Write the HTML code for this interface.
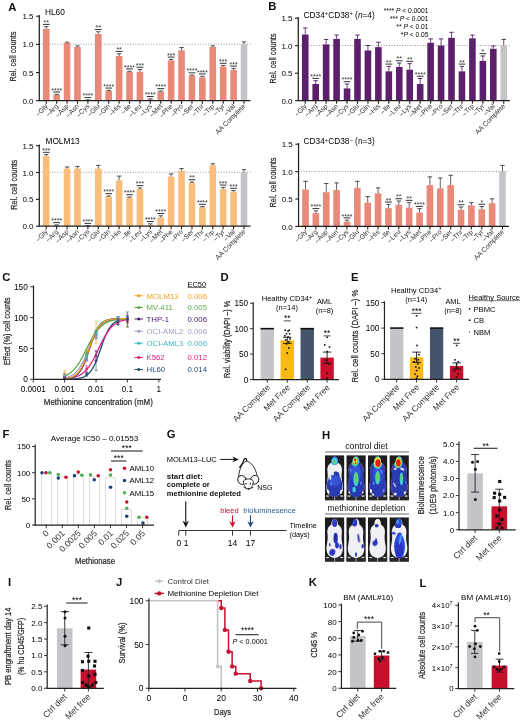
<!DOCTYPE html>
<html><head><meta charset="utf-8"><title>Figure</title>
<style>
html,body{margin:0;padding:0;background:#fff;}
body{width:520px;height:721px;overflow:hidden;font-family:"Liberation Sans",sans-serif;}
svg{display:block;font-family:"Liberation Sans",sans-serif;will-change:transform;opacity:0.999;}
svg text{font-family:"Liberation Sans",sans-serif;}
</style></head><body>
<svg width="520" height="721" viewBox="0 0 520 721">
<rect width="520" height="721" fill="#ffffff"/>
<line x1="39.00" y1="44.17" x2="250.50" y2="44.17" stroke="#6d6e71" stroke-width="0.7" stroke-dasharray="1 1.6"/>
<rect x="42.95" y="28.96" width="6.60" height="71.54" fill="#e8897a" />
<line x1="46.25" y1="28.96" x2="46.25" y2="26.70" stroke="#3a3a3a" stroke-width="0.8" />
<line x1="44.05" y1="26.70" x2="48.45" y2="26.70" stroke="#3a3a3a" stroke-width="0.9" />
<line x1="42.85" y1="24.40" x2="49.65" y2="24.40" stroke="#333" stroke-width="1.0" />
<text x="46.25" y="25.00" font-size="7" text-anchor="middle" fill="#333">**</text>
<rect x="53.36" y="94.87" width="6.60" height="5.63" fill="#e8897a" />
<line x1="56.66" y1="94.87" x2="56.66" y2="94.30" stroke="#3a3a3a" stroke-width="0.8" />
<line x1="54.46" y1="94.30" x2="58.86" y2="94.30" stroke="#3a3a3a" stroke-width="0.9" />
<line x1="53.26" y1="92.00" x2="60.06" y2="92.00" stroke="#333" stroke-width="1.0" />
<text x="56.66" y="92.60" font-size="7" text-anchor="middle" fill="#333">****</text>
<rect x="63.77" y="43.04" width="6.60" height="57.46" fill="#e8897a" />
<line x1="67.07" y1="43.04" x2="67.07" y2="42.20" stroke="#3a3a3a" stroke-width="0.8" />
<line x1="64.87" y1="42.20" x2="69.27" y2="42.20" stroke="#3a3a3a" stroke-width="0.9" />
<rect x="74.17" y="46.98" width="6.60" height="53.52" fill="#e8897a" />
<line x1="77.47" y1="46.98" x2="77.47" y2="45.86" stroke="#3a3a3a" stroke-width="0.8" />
<line x1="75.27" y1="45.86" x2="79.67" y2="45.86" stroke="#3a3a3a" stroke-width="0.9" />
<rect x="84.58" y="100.22" width="6.60" height="0.28" fill="#e8897a" />
<line x1="87.88" y1="100.22" x2="87.88" y2="99.94" stroke="#3a3a3a" stroke-width="0.8" />
<line x1="85.68" y1="99.94" x2="90.08" y2="99.94" stroke="#3a3a3a" stroke-width="0.9" />
<line x1="84.48" y1="97.64" x2="91.28" y2="97.64" stroke="#333" stroke-width="1.0" />
<text x="87.88" y="98.24" font-size="7" text-anchor="middle" fill="#333">****</text>
<rect x="94.99" y="34.03" width="6.60" height="66.47" fill="#e8897a" />
<line x1="98.29" y1="34.03" x2="98.29" y2="31.77" stroke="#3a3a3a" stroke-width="0.8" />
<line x1="96.09" y1="31.77" x2="100.49" y2="31.77" stroke="#3a3a3a" stroke-width="0.9" />
<line x1="94.89" y1="29.47" x2="101.69" y2="29.47" stroke="#333" stroke-width="1.0" />
<text x="98.29" y="30.07" font-size="7" text-anchor="middle" fill="#333">**</text>
<rect x="105.40" y="90.92" width="6.60" height="9.58" fill="#e8897a" />
<line x1="108.70" y1="90.92" x2="108.70" y2="90.36" stroke="#3a3a3a" stroke-width="0.8" />
<line x1="106.50" y1="90.36" x2="110.90" y2="90.36" stroke="#3a3a3a" stroke-width="0.9" />
<line x1="105.30" y1="88.06" x2="112.10" y2="88.06" stroke="#333" stroke-width="1.0" />
<text x="108.70" y="88.66" font-size="7" text-anchor="middle" fill="#333">****</text>
<rect x="115.81" y="56.00" width="6.60" height="44.50" fill="#e8897a" />
<line x1="119.11" y1="56.00" x2="119.11" y2="53.74" stroke="#3a3a3a" stroke-width="0.8" />
<line x1="116.91" y1="53.74" x2="121.31" y2="53.74" stroke="#3a3a3a" stroke-width="0.9" />
<line x1="115.71" y1="51.44" x2="122.51" y2="51.44" stroke="#333" stroke-width="1.0" />
<text x="119.11" y="52.04" font-size="7" text-anchor="middle" fill="#333">**</text>
<rect x="126.21" y="71.77" width="6.60" height="28.73" fill="#e8897a" />
<line x1="129.51" y1="71.77" x2="129.51" y2="71.21" stroke="#3a3a3a" stroke-width="0.8" />
<line x1="127.31" y1="71.21" x2="131.71" y2="71.21" stroke="#3a3a3a" stroke-width="0.9" />
<line x1="126.11" y1="68.91" x2="132.91" y2="68.91" stroke="#333" stroke-width="1.0" />
<text x="129.51" y="69.51" font-size="7" text-anchor="middle" fill="#333">****</text>
<rect x="136.62" y="71.77" width="6.60" height="28.73" fill="#e8897a" />
<line x1="139.92" y1="71.77" x2="139.92" y2="69.52" stroke="#3a3a3a" stroke-width="0.8" />
<line x1="137.72" y1="69.52" x2="142.12" y2="69.52" stroke="#3a3a3a" stroke-width="0.9" />
<line x1="136.52" y1="67.22" x2="143.32" y2="67.22" stroke="#333" stroke-width="1.0" />
<text x="139.92" y="67.82" font-size="7" text-anchor="middle" fill="#333">***</text>
<rect x="147.03" y="99.37" width="6.60" height="1.13" fill="#e8897a" />
<line x1="150.33" y1="99.37" x2="150.33" y2="98.81" stroke="#3a3a3a" stroke-width="0.8" />
<line x1="148.13" y1="98.81" x2="152.53" y2="98.81" stroke="#3a3a3a" stroke-width="0.9" />
<line x1="146.93" y1="96.51" x2="153.73" y2="96.51" stroke="#333" stroke-width="1.0" />
<text x="150.33" y="97.11" font-size="7" text-anchor="middle" fill="#333">****</text>
<rect x="157.44" y="91.49" width="6.60" height="9.01" fill="#e8897a" />
<line x1="160.74" y1="91.49" x2="160.74" y2="90.92" stroke="#3a3a3a" stroke-width="0.8" />
<line x1="158.54" y1="90.92" x2="162.94" y2="90.92" stroke="#3a3a3a" stroke-width="0.9" />
<line x1="157.34" y1="88.62" x2="164.14" y2="88.62" stroke="#333" stroke-width="1.0" />
<text x="160.74" y="89.22" font-size="7" text-anchor="middle" fill="#333">****</text>
<rect x="167.84" y="60.50" width="6.60" height="40.00" fill="#e8897a" />
<line x1="171.14" y1="60.50" x2="171.14" y2="59.38" stroke="#3a3a3a" stroke-width="0.8" />
<line x1="168.94" y1="59.38" x2="173.34" y2="59.38" stroke="#3a3a3a" stroke-width="0.9" />
<line x1="167.74" y1="57.08" x2="174.54" y2="57.08" stroke="#333" stroke-width="1.0" />
<text x="171.14" y="57.68" font-size="7" text-anchor="middle" fill="#333">***</text>
<rect x="178.25" y="50.36" width="6.60" height="50.14" fill="#e8897a" />
<line x1="181.55" y1="50.36" x2="181.55" y2="47.55" stroke="#3a3a3a" stroke-width="0.8" />
<line x1="179.35" y1="47.55" x2="183.75" y2="47.55" stroke="#3a3a3a" stroke-width="0.9" />
<rect x="188.66" y="75.71" width="6.60" height="24.79" fill="#e8897a" />
<line x1="191.96" y1="75.71" x2="191.96" y2="75.15" stroke="#3a3a3a" stroke-width="0.8" />
<line x1="189.76" y1="75.15" x2="194.16" y2="75.15" stroke="#3a3a3a" stroke-width="0.9" />
<line x1="188.56" y1="72.85" x2="195.36" y2="72.85" stroke="#333" stroke-width="1.0" />
<text x="191.96" y="73.45" font-size="7" text-anchor="middle" fill="#333">****</text>
<rect x="199.07" y="77.40" width="6.60" height="23.10" fill="#e8897a" />
<line x1="202.37" y1="77.40" x2="202.37" y2="76.28" stroke="#3a3a3a" stroke-width="0.8" />
<line x1="200.17" y1="76.28" x2="204.57" y2="76.28" stroke="#3a3a3a" stroke-width="0.9" />
<line x1="198.97" y1="73.98" x2="205.77" y2="73.98" stroke="#333" stroke-width="1.0" />
<text x="202.37" y="74.58" font-size="7" text-anchor="middle" fill="#333">****</text>
<rect x="209.48" y="46.98" width="6.60" height="53.52" fill="#e8897a" />
<line x1="212.78" y1="46.98" x2="212.78" y2="45.86" stroke="#3a3a3a" stroke-width="0.8" />
<line x1="210.58" y1="45.86" x2="214.98" y2="45.86" stroke="#3a3a3a" stroke-width="0.9" />
<rect x="219.88" y="66.70" width="6.60" height="33.80" fill="#e8897a" />
<line x1="223.18" y1="66.70" x2="223.18" y2="65.57" stroke="#3a3a3a" stroke-width="0.8" />
<line x1="220.98" y1="65.57" x2="225.38" y2="65.57" stroke="#3a3a3a" stroke-width="0.9" />
<line x1="219.78" y1="63.27" x2="226.58" y2="63.27" stroke="#333" stroke-width="1.0" />
<text x="223.18" y="63.87" font-size="7" text-anchor="middle" fill="#333">***</text>
<rect x="230.29" y="70.08" width="6.60" height="30.42" fill="#e8897a" />
<line x1="233.59" y1="70.08" x2="233.59" y2="68.39" stroke="#3a3a3a" stroke-width="0.8" />
<line x1="231.39" y1="68.39" x2="235.79" y2="68.39" stroke="#3a3a3a" stroke-width="0.9" />
<line x1="230.19" y1="66.09" x2="236.99" y2="66.09" stroke="#333" stroke-width="1.0" />
<text x="233.59" y="66.69" font-size="7" text-anchor="middle" fill="#333">***</text>
<rect x="240.70" y="44.17" width="6.60" height="56.33" fill="#c5c5c9" />
<line x1="244.00" y1="44.17" x2="244.00" y2="41.91" stroke="#3a3a3a" stroke-width="0.8" />
<line x1="241.80" y1="41.91" x2="246.20" y2="41.91" stroke="#3a3a3a" stroke-width="0.9" />
<line x1="39.30" y1="15.00" x2="39.30" y2="101.10" stroke="#231f20" stroke-width="1.25" />
<line x1="38.70" y1="100.70" x2="250.50" y2="100.70" stroke="#231f20" stroke-width="1.25" />
<line x1="36.00" y1="100.70" x2="39.00" y2="100.70" stroke="#231f20" stroke-width="1.1" />
<text x="33.50" y="103.80" font-size="8" text-anchor="end">0.0</text>
<line x1="36.00" y1="72.53" x2="39.00" y2="72.53" stroke="#231f20" stroke-width="1.1" />
<text x="33.50" y="75.63" font-size="8" text-anchor="end">0.5</text>
<line x1="36.00" y1="44.37" x2="39.00" y2="44.37" stroke="#231f20" stroke-width="1.1" />
<text x="33.50" y="47.47" font-size="8" text-anchor="end">1.0</text>
<line x1="36.00" y1="16.20" x2="39.00" y2="16.20" stroke="#231f20" stroke-width="1.1" />
<text x="33.50" y="19.30" font-size="8" text-anchor="end">1.5</text>
<line x1="46.25" y1="100.50" x2="46.25" y2="103.70" stroke="#231f20" stroke-width="1.1" />
<text x="48.25" y="106.70" font-size="6.8" text-anchor="end" fill="#333" transform="rotate(-45 48.25 106.70)">–Gly</text>
<line x1="56.66" y1="100.50" x2="56.66" y2="103.70" stroke="#231f20" stroke-width="1.1" />
<text x="58.66" y="106.70" font-size="6.8" text-anchor="end" fill="#333" transform="rotate(-45 58.66 106.70)">–Arg</text>
<line x1="67.07" y1="100.50" x2="67.07" y2="103.70" stroke="#231f20" stroke-width="1.1" />
<text x="69.07" y="106.70" font-size="6.8" text-anchor="end" fill="#333" transform="rotate(-45 69.07 106.70)">–Asp</text>
<line x1="77.47" y1="100.50" x2="77.47" y2="103.70" stroke="#231f20" stroke-width="1.1" />
<text x="79.47" y="106.70" font-size="6.8" text-anchor="end" fill="#333" transform="rotate(-45 79.47 106.70)">–Asn</text>
<line x1="87.88" y1="100.50" x2="87.88" y2="103.70" stroke="#231f20" stroke-width="1.1" />
<text x="89.88" y="106.70" font-size="6.8" text-anchor="end" fill="#333" transform="rotate(-45 89.88 106.70)">–Cys</text>
<line x1="98.29" y1="100.50" x2="98.29" y2="103.70" stroke="#231f20" stroke-width="1.1" />
<text x="100.29" y="106.70" font-size="6.8" text-anchor="end" fill="#333" transform="rotate(-45 100.29 106.70)">–Glu</text>
<line x1="108.70" y1="100.50" x2="108.70" y2="103.70" stroke="#231f20" stroke-width="1.1" />
<text x="110.70" y="106.70" font-size="6.8" text-anchor="end" fill="#333" transform="rotate(-45 110.70 106.70)">–Gln</text>
<line x1="119.11" y1="100.50" x2="119.11" y2="103.70" stroke="#231f20" stroke-width="1.1" />
<text x="121.11" y="106.70" font-size="6.8" text-anchor="end" fill="#333" transform="rotate(-45 121.11 106.70)">–His</text>
<line x1="129.51" y1="100.50" x2="129.51" y2="103.70" stroke="#231f20" stroke-width="1.1" />
<text x="131.51" y="106.70" font-size="6.8" text-anchor="end" fill="#333" transform="rotate(-45 131.51 106.70)">–Ile</text>
<line x1="139.92" y1="100.50" x2="139.92" y2="103.70" stroke="#231f20" stroke-width="1.1" />
<text x="141.92" y="106.70" font-size="6.8" text-anchor="end" fill="#333" transform="rotate(-45 141.92 106.70)">–Leu</text>
<line x1="150.33" y1="100.50" x2="150.33" y2="103.70" stroke="#231f20" stroke-width="1.1" />
<text x="152.33" y="106.70" font-size="6.8" text-anchor="end" fill="#333" transform="rotate(-45 152.33 106.70)">–Lys</text>
<line x1="160.74" y1="100.50" x2="160.74" y2="103.70" stroke="#231f20" stroke-width="1.1" />
<text x="162.74" y="106.70" font-size="6.8" text-anchor="end" fill="#333" transform="rotate(-45 162.74 106.70)">–Met</text>
<line x1="171.14" y1="100.50" x2="171.14" y2="103.70" stroke="#231f20" stroke-width="1.1" />
<text x="173.14" y="106.70" font-size="6.8" text-anchor="end" fill="#333" transform="rotate(-45 173.14 106.70)">–Phe</text>
<line x1="181.55" y1="100.50" x2="181.55" y2="103.70" stroke="#231f20" stroke-width="1.1" />
<text x="183.55" y="106.70" font-size="6.8" text-anchor="end" fill="#333" transform="rotate(-45 183.55 106.70)">–Pro</text>
<line x1="191.96" y1="100.50" x2="191.96" y2="103.70" stroke="#231f20" stroke-width="1.1" />
<text x="193.96" y="106.70" font-size="6.8" text-anchor="end" fill="#333" transform="rotate(-45 193.96 106.70)">–Ser</text>
<line x1="202.37" y1="100.50" x2="202.37" y2="103.70" stroke="#231f20" stroke-width="1.1" />
<text x="204.37" y="106.70" font-size="6.8" text-anchor="end" fill="#333" transform="rotate(-45 204.37 106.70)">–Thr</text>
<line x1="212.78" y1="100.50" x2="212.78" y2="103.70" stroke="#231f20" stroke-width="1.1" />
<text x="214.78" y="106.70" font-size="6.8" text-anchor="end" fill="#333" transform="rotate(-45 214.78 106.70)">–Trp</text>
<line x1="223.18" y1="100.50" x2="223.18" y2="103.70" stroke="#231f20" stroke-width="1.1" />
<text x="225.18" y="106.70" font-size="6.8" text-anchor="end" fill="#333" transform="rotate(-45 225.18 106.70)">–Tyr</text>
<line x1="233.59" y1="100.50" x2="233.59" y2="103.70" stroke="#231f20" stroke-width="1.1" />
<text x="235.59" y="106.70" font-size="6.8" text-anchor="end" fill="#333" transform="rotate(-45 235.59 106.70)">–Val</text>
<line x1="244.00" y1="100.50" x2="244.00" y2="103.70" stroke="#231f20" stroke-width="1.1" />
<text x="246.00" y="106.70" font-size="6.8" text-anchor="end" fill="#333" transform="rotate(-45 246.00 106.70)">AA Complete</text>
<text x="16.30" y="56.60" font-size="9.6" text-anchor="middle" fill="#262626" transform="rotate(-90 16.30 56.60)" textLength="50.00" lengthAdjust="spacingAndGlyphs" stroke="#262626" stroke-width="0.22">Rel. cell counts</text>
<text x="45.00" y="14.60" font-size="8.3">HL60</text>
<line x1="39.00" y1="172.33" x2="250.50" y2="172.33" stroke="#6d6e71" stroke-width="0.7" stroke-dasharray="1 1.6"/>
<rect x="42.95" y="156.23" width="6.60" height="69.77" fill="#fabd7c" />
<line x1="46.25" y1="156.23" x2="46.25" y2="154.62" stroke="#3a3a3a" stroke-width="0.8" />
<line x1="44.05" y1="154.62" x2="48.45" y2="154.62" stroke="#3a3a3a" stroke-width="0.9" />
<line x1="42.85" y1="152.32" x2="49.65" y2="152.32" stroke="#333" stroke-width="1.0" />
<text x="46.25" y="152.92" font-size="7" text-anchor="middle" fill="#333">***</text>
<rect x="53.36" y="225.46" width="6.60" height="0.54" fill="#fabd7c" />
<line x1="56.66" y1="225.46" x2="56.66" y2="224.93" stroke="#3a3a3a" stroke-width="0.8" />
<line x1="54.46" y1="224.93" x2="58.86" y2="224.93" stroke="#3a3a3a" stroke-width="0.9" />
<line x1="53.26" y1="222.63" x2="60.06" y2="222.63" stroke="#333" stroke-width="1.0" />
<text x="56.66" y="223.23" font-size="7" text-anchor="middle" fill="#333">****</text>
<rect x="63.77" y="168.58" width="6.60" height="57.42" fill="#fabd7c" />
<line x1="67.07" y1="168.58" x2="67.07" y2="166.97" stroke="#3a3a3a" stroke-width="0.8" />
<line x1="64.87" y1="166.97" x2="69.27" y2="166.97" stroke="#3a3a3a" stroke-width="0.9" />
<rect x="74.17" y="168.58" width="6.60" height="57.42" fill="#fabd7c" />
<line x1="77.47" y1="168.58" x2="77.47" y2="166.43" stroke="#3a3a3a" stroke-width="0.8" />
<line x1="75.27" y1="166.43" x2="79.67" y2="166.43" stroke="#3a3a3a" stroke-width="0.9" />
<line x1="87.88" y1="225.84" x2="87.88" y2="225.68" stroke="#3a3a3a" stroke-width="0.8" />
<line x1="85.68" y1="225.68" x2="90.08" y2="225.68" stroke="#3a3a3a" stroke-width="0.9" />
<line x1="84.48" y1="223.38" x2="91.28" y2="223.38" stroke="#333" stroke-width="1.0" />
<text x="87.88" y="223.98" font-size="7" text-anchor="middle" fill="#333">****</text>
<rect x="94.99" y="168.58" width="6.60" height="57.42" fill="#fabd7c" />
<line x1="98.29" y1="168.58" x2="98.29" y2="165.36" stroke="#3a3a3a" stroke-width="0.8" />
<line x1="96.09" y1="165.36" x2="100.49" y2="165.36" stroke="#3a3a3a" stroke-width="0.9" />
<rect x="105.40" y="196.48" width="6.60" height="29.52" fill="#fabd7c" />
<line x1="108.70" y1="196.48" x2="108.70" y2="195.95" stroke="#3a3a3a" stroke-width="0.8" />
<line x1="106.50" y1="195.95" x2="110.90" y2="195.95" stroke="#3a3a3a" stroke-width="0.9" />
<line x1="105.30" y1="193.65" x2="112.10" y2="193.65" stroke="#333" stroke-width="1.0" />
<text x="108.70" y="194.25" font-size="7" text-anchor="middle" fill="#333">****</text>
<rect x="115.81" y="180.38" width="6.60" height="45.62" fill="#fabd7c" />
<line x1="119.11" y1="180.38" x2="119.11" y2="176.09" stroke="#3a3a3a" stroke-width="0.8" />
<line x1="116.91" y1="176.09" x2="121.31" y2="176.09" stroke="#3a3a3a" stroke-width="0.9" />
<rect x="126.21" y="197.56" width="6.60" height="28.44" fill="#fabd7c" />
<line x1="129.51" y1="197.56" x2="129.51" y2="197.02" stroke="#3a3a3a" stroke-width="0.8" />
<line x1="127.31" y1="197.02" x2="131.71" y2="197.02" stroke="#3a3a3a" stroke-width="0.9" />
<line x1="126.11" y1="194.72" x2="132.91" y2="194.72" stroke="#333" stroke-width="1.0" />
<text x="129.51" y="195.32" font-size="7" text-anchor="middle" fill="#333">****</text>
<rect x="136.62" y="188.97" width="6.60" height="37.03" fill="#fabd7c" />
<line x1="139.92" y1="188.97" x2="139.92" y2="187.90" stroke="#3a3a3a" stroke-width="0.8" />
<line x1="137.72" y1="187.90" x2="142.12" y2="187.90" stroke="#3a3a3a" stroke-width="0.9" />
<line x1="136.52" y1="185.60" x2="143.32" y2="185.60" stroke="#333" stroke-width="1.0" />
<text x="139.92" y="186.20" font-size="7" text-anchor="middle" fill="#333">***</text>
<rect x="147.03" y="224.93" width="6.60" height="1.07" fill="#fabd7c" />
<line x1="150.33" y1="224.93" x2="150.33" y2="223.85" stroke="#3a3a3a" stroke-width="0.8" />
<line x1="148.13" y1="223.85" x2="152.53" y2="223.85" stroke="#3a3a3a" stroke-width="0.9" />
<line x1="146.93" y1="221.55" x2="153.73" y2="221.55" stroke="#333" stroke-width="1.0" />
<text x="150.33" y="222.15" font-size="7" text-anchor="middle" fill="#333">****</text>
<rect x="157.44" y="217.41" width="6.60" height="8.59" fill="#fabd7c" />
<line x1="160.74" y1="217.41" x2="160.74" y2="215.80" stroke="#3a3a3a" stroke-width="0.8" />
<line x1="158.54" y1="215.80" x2="162.94" y2="215.80" stroke="#3a3a3a" stroke-width="0.9" />
<line x1="157.34" y1="213.50" x2="164.14" y2="213.50" stroke="#333" stroke-width="1.0" />
<text x="160.74" y="214.10" font-size="7" text-anchor="middle" fill="#333">****</text>
<rect x="167.84" y="176.63" width="6.60" height="49.37" fill="#fabd7c" />
<line x1="171.14" y1="176.63" x2="171.14" y2="173.94" stroke="#3a3a3a" stroke-width="0.8" />
<line x1="168.94" y1="173.94" x2="173.34" y2="173.94" stroke="#3a3a3a" stroke-width="0.9" />
<rect x="178.25" y="170.72" width="6.60" height="55.28" fill="#fabd7c" />
<line x1="181.55" y1="170.72" x2="181.55" y2="168.58" stroke="#3a3a3a" stroke-width="0.8" />
<line x1="179.35" y1="168.58" x2="183.75" y2="168.58" stroke="#3a3a3a" stroke-width="0.9" />
<rect x="188.66" y="183.07" width="6.60" height="42.93" fill="#fabd7c" />
<line x1="191.96" y1="183.07" x2="191.96" y2="181.99" stroke="#3a3a3a" stroke-width="0.8" />
<line x1="189.76" y1="181.99" x2="194.16" y2="181.99" stroke="#3a3a3a" stroke-width="0.9" />
<line x1="188.56" y1="179.69" x2="195.36" y2="179.69" stroke="#333" stroke-width="1.0" />
<text x="191.96" y="180.29" font-size="7" text-anchor="middle" fill="#333">**</text>
<rect x="199.07" y="207.22" width="6.60" height="18.78" fill="#fabd7c" />
<line x1="202.37" y1="207.22" x2="202.37" y2="206.68" stroke="#3a3a3a" stroke-width="0.8" />
<line x1="200.17" y1="206.68" x2="204.57" y2="206.68" stroke="#3a3a3a" stroke-width="0.9" />
<line x1="198.97" y1="204.38" x2="205.77" y2="204.38" stroke="#333" stroke-width="1.0" />
<text x="202.37" y="204.98" font-size="7" text-anchor="middle" fill="#333">****</text>
<rect x="209.48" y="165.36" width="6.60" height="60.64" fill="#fabd7c" />
<line x1="212.78" y1="165.36" x2="212.78" y2="163.75" stroke="#3a3a3a" stroke-width="0.8" />
<line x1="210.58" y1="163.75" x2="214.98" y2="163.75" stroke="#3a3a3a" stroke-width="0.9" />
<rect x="219.88" y="188.97" width="6.60" height="37.03" fill="#fabd7c" />
<line x1="223.18" y1="188.97" x2="223.18" y2="187.36" stroke="#3a3a3a" stroke-width="0.8" />
<line x1="220.98" y1="187.36" x2="225.38" y2="187.36" stroke="#3a3a3a" stroke-width="0.9" />
<line x1="219.78" y1="185.06" x2="226.58" y2="185.06" stroke="#333" stroke-width="1.0" />
<text x="223.18" y="185.66" font-size="7" text-anchor="middle" fill="#333">***</text>
<rect x="230.29" y="191.65" width="6.60" height="34.35" fill="#fabd7c" />
<line x1="233.59" y1="191.65" x2="233.59" y2="190.58" stroke="#3a3a3a" stroke-width="0.8" />
<line x1="231.39" y1="190.58" x2="235.79" y2="190.58" stroke="#3a3a3a" stroke-width="0.9" />
<line x1="230.19" y1="188.28" x2="236.99" y2="188.28" stroke="#333" stroke-width="1.0" />
<text x="233.59" y="188.88" font-size="7" text-anchor="middle" fill="#333">***</text>
<rect x="240.70" y="172.33" width="6.60" height="53.67" fill="#c5c5c9" />
<line x1="244.00" y1="172.33" x2="244.00" y2="169.65" stroke="#3a3a3a" stroke-width="0.8" />
<line x1="241.80" y1="169.65" x2="246.20" y2="169.65" stroke="#3a3a3a" stroke-width="0.9" />
<line x1="39.30" y1="144.50" x2="39.30" y2="226.60" stroke="#231f20" stroke-width="1.25" />
<line x1="38.70" y1="226.20" x2="250.50" y2="226.20" stroke="#231f20" stroke-width="1.25" />
<line x1="36.00" y1="226.20" x2="39.00" y2="226.20" stroke="#231f20" stroke-width="1.1" />
<text x="33.50" y="229.30" font-size="8" text-anchor="end">0.0</text>
<line x1="36.00" y1="199.37" x2="39.00" y2="199.37" stroke="#231f20" stroke-width="1.1" />
<text x="33.50" y="202.47" font-size="8" text-anchor="end">0.5</text>
<line x1="36.00" y1="172.53" x2="39.00" y2="172.53" stroke="#231f20" stroke-width="1.1" />
<text x="33.50" y="175.63" font-size="8" text-anchor="end">1.0</text>
<line x1="36.00" y1="145.70" x2="39.00" y2="145.70" stroke="#231f20" stroke-width="1.1" />
<text x="33.50" y="148.80" font-size="8" text-anchor="end">1.5</text>
<line x1="46.25" y1="226.00" x2="46.25" y2="229.20" stroke="#231f20" stroke-width="1.1" />
<text x="48.25" y="232.20" font-size="6.8" text-anchor="end" fill="#333" transform="rotate(-45 48.25 232.20)">–Gly</text>
<line x1="56.66" y1="226.00" x2="56.66" y2="229.20" stroke="#231f20" stroke-width="1.1" />
<text x="58.66" y="232.20" font-size="6.8" text-anchor="end" fill="#333" transform="rotate(-45 58.66 232.20)">–Arg</text>
<line x1="67.07" y1="226.00" x2="67.07" y2="229.20" stroke="#231f20" stroke-width="1.1" />
<text x="69.07" y="232.20" font-size="6.8" text-anchor="end" fill="#333" transform="rotate(-45 69.07 232.20)">–Asp</text>
<line x1="77.47" y1="226.00" x2="77.47" y2="229.20" stroke="#231f20" stroke-width="1.1" />
<text x="79.47" y="232.20" font-size="6.8" text-anchor="end" fill="#333" transform="rotate(-45 79.47 232.20)">–Asn</text>
<line x1="87.88" y1="226.00" x2="87.88" y2="229.20" stroke="#231f20" stroke-width="1.1" />
<text x="89.88" y="232.20" font-size="6.8" text-anchor="end" fill="#333" transform="rotate(-45 89.88 232.20)">–Cys</text>
<line x1="98.29" y1="226.00" x2="98.29" y2="229.20" stroke="#231f20" stroke-width="1.1" />
<text x="100.29" y="232.20" font-size="6.8" text-anchor="end" fill="#333" transform="rotate(-45 100.29 232.20)">–Glu</text>
<line x1="108.70" y1="226.00" x2="108.70" y2="229.20" stroke="#231f20" stroke-width="1.1" />
<text x="110.70" y="232.20" font-size="6.8" text-anchor="end" fill="#333" transform="rotate(-45 110.70 232.20)">–Gln</text>
<line x1="119.11" y1="226.00" x2="119.11" y2="229.20" stroke="#231f20" stroke-width="1.1" />
<text x="121.11" y="232.20" font-size="6.8" text-anchor="end" fill="#333" transform="rotate(-45 121.11 232.20)">–His</text>
<line x1="129.51" y1="226.00" x2="129.51" y2="229.20" stroke="#231f20" stroke-width="1.1" />
<text x="131.51" y="232.20" font-size="6.8" text-anchor="end" fill="#333" transform="rotate(-45 131.51 232.20)">–Ile</text>
<line x1="139.92" y1="226.00" x2="139.92" y2="229.20" stroke="#231f20" stroke-width="1.1" />
<text x="141.92" y="232.20" font-size="6.8" text-anchor="end" fill="#333" transform="rotate(-45 141.92 232.20)">–Leu</text>
<line x1="150.33" y1="226.00" x2="150.33" y2="229.20" stroke="#231f20" stroke-width="1.1" />
<text x="152.33" y="232.20" font-size="6.8" text-anchor="end" fill="#333" transform="rotate(-45 152.33 232.20)">–Lys</text>
<line x1="160.74" y1="226.00" x2="160.74" y2="229.20" stroke="#231f20" stroke-width="1.1" />
<text x="162.74" y="232.20" font-size="6.8" text-anchor="end" fill="#333" transform="rotate(-45 162.74 232.20)">–Met</text>
<line x1="171.14" y1="226.00" x2="171.14" y2="229.20" stroke="#231f20" stroke-width="1.1" />
<text x="173.14" y="232.20" font-size="6.8" text-anchor="end" fill="#333" transform="rotate(-45 173.14 232.20)">–Phe</text>
<line x1="181.55" y1="226.00" x2="181.55" y2="229.20" stroke="#231f20" stroke-width="1.1" />
<text x="183.55" y="232.20" font-size="6.8" text-anchor="end" fill="#333" transform="rotate(-45 183.55 232.20)">–Pro</text>
<line x1="191.96" y1="226.00" x2="191.96" y2="229.20" stroke="#231f20" stroke-width="1.1" />
<text x="193.96" y="232.20" font-size="6.8" text-anchor="end" fill="#333" transform="rotate(-45 193.96 232.20)">–Ser</text>
<line x1="202.37" y1="226.00" x2="202.37" y2="229.20" stroke="#231f20" stroke-width="1.1" />
<text x="204.37" y="232.20" font-size="6.8" text-anchor="end" fill="#333" transform="rotate(-45 204.37 232.20)">–Thr</text>
<line x1="212.78" y1="226.00" x2="212.78" y2="229.20" stroke="#231f20" stroke-width="1.1" />
<text x="214.78" y="232.20" font-size="6.8" text-anchor="end" fill="#333" transform="rotate(-45 214.78 232.20)">–Trp</text>
<line x1="223.18" y1="226.00" x2="223.18" y2="229.20" stroke="#231f20" stroke-width="1.1" />
<text x="225.18" y="232.20" font-size="6.8" text-anchor="end" fill="#333" transform="rotate(-45 225.18 232.20)">–Tyr</text>
<line x1="233.59" y1="226.00" x2="233.59" y2="229.20" stroke="#231f20" stroke-width="1.1" />
<text x="235.59" y="232.20" font-size="6.8" text-anchor="end" fill="#333" transform="rotate(-45 235.59 232.20)">–Val</text>
<line x1="244.00" y1="226.00" x2="244.00" y2="229.20" stroke="#231f20" stroke-width="1.1" />
<text x="246.00" y="232.20" font-size="6.8" text-anchor="end" fill="#333" transform="rotate(-45 246.00 232.20)">AA Complete</text>
<text x="16.60" y="184.75" font-size="9.6" text-anchor="middle" fill="#262626" transform="rotate(-90 16.60 184.75)" textLength="50.00" lengthAdjust="spacingAndGlyphs" stroke="#262626" stroke-width="0.22">Rel. cell counts</text>
<text x="45.50" y="143.60" font-size="8.3">MOLM13</text>
<line x1="298.00" y1="45.50" x2="510.00" y2="45.50" stroke="#6d6e71" stroke-width="0.7" stroke-dasharray="1 1.6"/>
<rect x="301.95" y="34.50" width="6.60" height="66.00" fill="#5c1f6b" />
<line x1="305.25" y1="34.50" x2="305.25" y2="27.90" stroke="#4a1a58" stroke-width="0.8" />
<line x1="303.05" y1="27.90" x2="307.45" y2="27.90" stroke="#4a1a58" stroke-width="0.9" />
<rect x="312.40" y="84.00" width="6.60" height="16.50" fill="#5c1f6b" />
<line x1="315.70" y1="84.00" x2="315.70" y2="80.70" stroke="#4a1a58" stroke-width="0.8" />
<line x1="313.50" y1="80.70" x2="317.90" y2="80.70" stroke="#4a1a58" stroke-width="0.9" />
<line x1="312.30" y1="78.40" x2="319.10" y2="78.40" stroke="#333" stroke-width="1.0" />
<text x="315.70" y="79.00" font-size="7" text-anchor="middle" fill="#333">****</text>
<rect x="322.84" y="44.40" width="6.60" height="56.10" fill="#5c1f6b" />
<line x1="326.14" y1="44.40" x2="326.14" y2="39.45" stroke="#4a1a58" stroke-width="0.8" />
<line x1="323.94" y1="39.45" x2="328.34" y2="39.45" stroke="#4a1a58" stroke-width="0.9" />
<rect x="333.29" y="38.90" width="6.60" height="61.60" fill="#5c1f6b" />
<line x1="336.59" y1="38.90" x2="336.59" y2="35.05" stroke="#4a1a58" stroke-width="0.8" />
<line x1="334.39" y1="35.05" x2="338.79" y2="35.05" stroke="#4a1a58" stroke-width="0.9" />
<rect x="343.74" y="88.40" width="6.60" height="12.10" fill="#5c1f6b" />
<line x1="347.04" y1="88.40" x2="347.04" y2="84.00" stroke="#4a1a58" stroke-width="0.8" />
<line x1="344.84" y1="84.00" x2="349.24" y2="84.00" stroke="#4a1a58" stroke-width="0.9" />
<line x1="343.64" y1="81.70" x2="350.44" y2="81.70" stroke="#333" stroke-width="1.0" />
<text x="347.04" y="82.30" font-size="7" text-anchor="middle" fill="#333">****</text>
<rect x="354.19" y="38.90" width="6.60" height="61.60" fill="#5c1f6b" />
<line x1="357.49" y1="38.90" x2="357.49" y2="35.05" stroke="#4a1a58" stroke-width="0.8" />
<line x1="355.29" y1="35.05" x2="359.69" y2="35.05" stroke="#4a1a58" stroke-width="0.9" />
<rect x="364.63" y="50.45" width="6.60" height="50.05" fill="#5c1f6b" />
<line x1="367.93" y1="50.45" x2="367.93" y2="45.50" stroke="#4a1a58" stroke-width="0.8" />
<line x1="365.73" y1="45.50" x2="370.13" y2="45.50" stroke="#4a1a58" stroke-width="0.9" />
<rect x="375.08" y="47.15" width="6.60" height="53.35" fill="#5c1f6b" />
<line x1="378.38" y1="47.15" x2="378.38" y2="42.20" stroke="#4a1a58" stroke-width="0.8" />
<line x1="376.18" y1="42.20" x2="380.58" y2="42.20" stroke="#4a1a58" stroke-width="0.9" />
<rect x="385.53" y="71.35" width="6.60" height="29.15" fill="#5c1f6b" />
<line x1="388.83" y1="71.35" x2="388.83" y2="66.40" stroke="#4a1a58" stroke-width="0.8" />
<line x1="386.63" y1="66.40" x2="391.03" y2="66.40" stroke="#4a1a58" stroke-width="0.9" />
<line x1="385.43" y1="64.10" x2="392.23" y2="64.10" stroke="#333" stroke-width="1.0" />
<text x="388.83" y="64.70" font-size="7" text-anchor="middle" fill="#333">**</text>
<rect x="395.98" y="66.95" width="6.60" height="33.55" fill="#5c1f6b" />
<line x1="399.28" y1="66.95" x2="399.28" y2="63.10" stroke="#4a1a58" stroke-width="0.8" />
<line x1="397.08" y1="63.10" x2="401.48" y2="63.10" stroke="#4a1a58" stroke-width="0.9" />
<line x1="395.88" y1="60.80" x2="402.68" y2="60.80" stroke="#333" stroke-width="1.0" />
<text x="399.28" y="61.40" font-size="7" text-anchor="middle" fill="#333">**</text>
<rect x="406.42" y="69.70" width="6.60" height="30.80" fill="#5c1f6b" />
<line x1="409.72" y1="69.70" x2="409.72" y2="63.65" stroke="#4a1a58" stroke-width="0.8" />
<line x1="407.52" y1="63.65" x2="411.92" y2="63.65" stroke="#4a1a58" stroke-width="0.9" />
<line x1="406.32" y1="61.35" x2="413.12" y2="61.35" stroke="#333" stroke-width="1.0" />
<text x="409.72" y="61.95" font-size="7" text-anchor="middle" fill="#333">**</text>
<rect x="416.87" y="84.00" width="6.60" height="16.50" fill="#5c1f6b" />
<line x1="420.17" y1="84.00" x2="420.17" y2="78.50" stroke="#4a1a58" stroke-width="0.8" />
<line x1="417.97" y1="78.50" x2="422.37" y2="78.50" stroke="#4a1a58" stroke-width="0.9" />
<line x1="416.77" y1="76.20" x2="423.57" y2="76.20" stroke="#333" stroke-width="1.0" />
<text x="420.17" y="76.80" font-size="7" text-anchor="middle" fill="#333">****</text>
<rect x="427.32" y="42.75" width="6.60" height="57.75" fill="#5c1f6b" />
<line x1="430.62" y1="42.75" x2="430.62" y2="38.90" stroke="#4a1a58" stroke-width="0.8" />
<line x1="428.42" y1="38.90" x2="432.82" y2="38.90" stroke="#4a1a58" stroke-width="0.9" />
<rect x="437.77" y="45.50" width="6.60" height="55.00" fill="#5c1f6b" />
<line x1="441.07" y1="45.50" x2="441.07" y2="38.90" stroke="#4a1a58" stroke-width="0.8" />
<line x1="438.87" y1="38.90" x2="443.27" y2="38.90" stroke="#4a1a58" stroke-width="0.9" />
<rect x="448.21" y="37.80" width="6.60" height="62.70" fill="#5c1f6b" />
<line x1="451.51" y1="37.80" x2="451.51" y2="32.30" stroke="#4a1a58" stroke-width="0.8" />
<line x1="449.31" y1="32.30" x2="453.71" y2="32.30" stroke="#4a1a58" stroke-width="0.9" />
<rect x="458.66" y="71.35" width="6.60" height="29.15" fill="#5c1f6b" />
<line x1="461.96" y1="71.35" x2="461.96" y2="66.40" stroke="#4a1a58" stroke-width="0.8" />
<line x1="459.76" y1="66.40" x2="464.16" y2="66.40" stroke="#4a1a58" stroke-width="0.9" />
<line x1="458.56" y1="64.10" x2="465.36" y2="64.10" stroke="#333" stroke-width="1.0" />
<text x="461.96" y="64.70" font-size="7" text-anchor="middle" fill="#333">**</text>
<rect x="469.11" y="38.35" width="6.60" height="62.15" fill="#5c1f6b" />
<line x1="472.41" y1="38.35" x2="472.41" y2="35.05" stroke="#4a1a58" stroke-width="0.8" />
<line x1="470.21" y1="35.05" x2="474.61" y2="35.05" stroke="#4a1a58" stroke-width="0.9" />
<rect x="479.56" y="60.90" width="6.60" height="39.60" fill="#5c1f6b" />
<line x1="482.86" y1="60.90" x2="482.86" y2="55.95" stroke="#4a1a58" stroke-width="0.8" />
<line x1="480.66" y1="55.95" x2="485.06" y2="55.95" stroke="#4a1a58" stroke-width="0.9" />
<line x1="479.46" y1="53.65" x2="486.26" y2="53.65" stroke="#333" stroke-width="1.0" />
<text x="482.86" y="54.25" font-size="7" text-anchor="middle" fill="#333">*</text>
<rect x="490.00" y="48.80" width="6.60" height="51.70" fill="#5c1f6b" />
<line x1="493.30" y1="48.80" x2="493.30" y2="46.05" stroke="#4a1a58" stroke-width="0.8" />
<line x1="491.10" y1="46.05" x2="495.50" y2="46.05" stroke="#4a1a58" stroke-width="0.9" />
<rect x="500.45" y="45.50" width="6.60" height="55.00" fill="#c5c5c9" />
<line x1="503.75" y1="45.50" x2="503.75" y2="39.45" stroke="#4a1a58" stroke-width="0.8" />
<line x1="501.55" y1="39.45" x2="505.95" y2="39.45" stroke="#4a1a58" stroke-width="0.9" />
<line x1="298.30" y1="17.00" x2="298.30" y2="101.10" stroke="#231f20" stroke-width="1.25" />
<line x1="297.70" y1="100.70" x2="510.00" y2="100.70" stroke="#231f20" stroke-width="1.25" />
<line x1="295.00" y1="100.70" x2="298.00" y2="100.70" stroke="#231f20" stroke-width="1.1" />
<text x="292.50" y="103.80" font-size="8" text-anchor="end">0.0</text>
<line x1="295.00" y1="73.20" x2="298.00" y2="73.20" stroke="#231f20" stroke-width="1.1" />
<text x="292.50" y="76.30" font-size="8" text-anchor="end">0.5</text>
<line x1="295.00" y1="45.70" x2="298.00" y2="45.70" stroke="#231f20" stroke-width="1.1" />
<text x="292.50" y="48.80" font-size="8" text-anchor="end">1.0</text>
<line x1="295.00" y1="18.20" x2="298.00" y2="18.20" stroke="#231f20" stroke-width="1.1" />
<text x="292.50" y="21.30" font-size="8" text-anchor="end">1.5</text>
<line x1="305.25" y1="100.50" x2="305.25" y2="103.70" stroke="#231f20" stroke-width="1.1" />
<text x="307.25" y="106.70" font-size="6.8" text-anchor="end" fill="#333" transform="rotate(-45 307.25 106.70)">–Gly</text>
<line x1="315.70" y1="100.50" x2="315.70" y2="103.70" stroke="#231f20" stroke-width="1.1" />
<text x="317.70" y="106.70" font-size="6.8" text-anchor="end" fill="#333" transform="rotate(-45 317.70 106.70)">–Arg</text>
<line x1="326.14" y1="100.50" x2="326.14" y2="103.70" stroke="#231f20" stroke-width="1.1" />
<text x="328.14" y="106.70" font-size="6.8" text-anchor="end" fill="#333" transform="rotate(-45 328.14 106.70)">–Asp</text>
<line x1="336.59" y1="100.50" x2="336.59" y2="103.70" stroke="#231f20" stroke-width="1.1" />
<text x="338.59" y="106.70" font-size="6.8" text-anchor="end" fill="#333" transform="rotate(-45 338.59 106.70)">–Asn</text>
<line x1="347.04" y1="100.50" x2="347.04" y2="103.70" stroke="#231f20" stroke-width="1.1" />
<text x="349.04" y="106.70" font-size="6.8" text-anchor="end" fill="#333" transform="rotate(-45 349.04 106.70)">–Cys</text>
<line x1="357.49" y1="100.50" x2="357.49" y2="103.70" stroke="#231f20" stroke-width="1.1" />
<text x="359.49" y="106.70" font-size="6.8" text-anchor="end" fill="#333" transform="rotate(-45 359.49 106.70)">–Glu</text>
<line x1="367.93" y1="100.50" x2="367.93" y2="103.70" stroke="#231f20" stroke-width="1.1" />
<text x="369.93" y="106.70" font-size="6.8" text-anchor="end" fill="#333" transform="rotate(-45 369.93 106.70)">–Gln</text>
<line x1="378.38" y1="100.50" x2="378.38" y2="103.70" stroke="#231f20" stroke-width="1.1" />
<text x="380.38" y="106.70" font-size="6.8" text-anchor="end" fill="#333" transform="rotate(-45 380.38 106.70)">–His</text>
<line x1="388.83" y1="100.50" x2="388.83" y2="103.70" stroke="#231f20" stroke-width="1.1" />
<text x="390.83" y="106.70" font-size="6.8" text-anchor="end" fill="#333" transform="rotate(-45 390.83 106.70)">–Ile</text>
<line x1="399.28" y1="100.50" x2="399.28" y2="103.70" stroke="#231f20" stroke-width="1.1" />
<text x="401.28" y="106.70" font-size="6.8" text-anchor="end" fill="#333" transform="rotate(-45 401.28 106.70)">–Leu</text>
<line x1="409.72" y1="100.50" x2="409.72" y2="103.70" stroke="#231f20" stroke-width="1.1" />
<text x="411.72" y="106.70" font-size="6.8" text-anchor="end" fill="#333" transform="rotate(-45 411.72 106.70)">–Lys</text>
<line x1="420.17" y1="100.50" x2="420.17" y2="103.70" stroke="#231f20" stroke-width="1.1" />
<text x="422.17" y="106.70" font-size="6.8" text-anchor="end" fill="#333" transform="rotate(-45 422.17 106.70)">–Met</text>
<line x1="430.62" y1="100.50" x2="430.62" y2="103.70" stroke="#231f20" stroke-width="1.1" />
<text x="432.62" y="106.70" font-size="6.8" text-anchor="end" fill="#333" transform="rotate(-45 432.62 106.70)">–Phe</text>
<line x1="441.07" y1="100.50" x2="441.07" y2="103.70" stroke="#231f20" stroke-width="1.1" />
<text x="443.07" y="106.70" font-size="6.8" text-anchor="end" fill="#333" transform="rotate(-45 443.07 106.70)">–Pro</text>
<line x1="451.51" y1="100.50" x2="451.51" y2="103.70" stroke="#231f20" stroke-width="1.1" />
<text x="453.51" y="106.70" font-size="6.8" text-anchor="end" fill="#333" transform="rotate(-45 453.51 106.70)">–Ser</text>
<line x1="461.96" y1="100.50" x2="461.96" y2="103.70" stroke="#231f20" stroke-width="1.1" />
<text x="463.96" y="106.70" font-size="6.8" text-anchor="end" fill="#333" transform="rotate(-45 463.96 106.70)">–Thr</text>
<line x1="472.41" y1="100.50" x2="472.41" y2="103.70" stroke="#231f20" stroke-width="1.1" />
<text x="474.41" y="106.70" font-size="6.8" text-anchor="end" fill="#333" transform="rotate(-45 474.41 106.70)">–Trp</text>
<line x1="482.86" y1="100.50" x2="482.86" y2="103.70" stroke="#231f20" stroke-width="1.1" />
<text x="484.86" y="106.70" font-size="6.8" text-anchor="end" fill="#333" transform="rotate(-45 484.86 106.70)">–Tyr</text>
<line x1="493.30" y1="100.50" x2="493.30" y2="103.70" stroke="#231f20" stroke-width="1.1" />
<text x="495.30" y="106.70" font-size="6.8" text-anchor="end" fill="#333" transform="rotate(-45 495.30 106.70)">–Val</text>
<line x1="503.75" y1="100.50" x2="503.75" y2="103.70" stroke="#231f20" stroke-width="1.1" />
<text x="505.75" y="106.70" font-size="6.8" text-anchor="end" fill="#333" transform="rotate(-45 505.75 106.70)">AA Complete</text>
<text x="276.20" y="58.50" font-size="9.6" text-anchor="middle" fill="#262626" transform="rotate(-90 276.20 58.50)" textLength="50.00" lengthAdjust="spacingAndGlyphs" stroke="#262626" stroke-width="0.22">Rel. cell counts</text>
<text x="303.60" y="17.80" font-size="8.3">CD34<tspan dy="-2.6" font-size="5.8">+</tspan><tspan dy="2.6">CD38</tspan><tspan dy="-2.6" font-size="5.8">+</tspan><tspan dy="2.6"> (</tspan><tspan font-style="italic">n</tspan>=4)</text>
<line x1="298.25" y1="171.42" x2="509.00" y2="171.42" stroke="#6d6e71" stroke-width="0.7" stroke-dasharray="1 1.6"/>
<rect x="302.20" y="189.51" width="6.60" height="36.74" fill="#e8897a" />
<line x1="305.50" y1="189.51" x2="305.50" y2="181.29" stroke="#3a3a3a" stroke-width="0.8" />
<line x1="303.30" y1="181.29" x2="307.70" y2="181.29" stroke="#3a3a3a" stroke-width="0.9" />
<rect x="312.57" y="213.09" width="6.60" height="13.16" fill="#e8897a" />
<line x1="315.87" y1="213.09" x2="315.87" y2="210.90" stroke="#3a3a3a" stroke-width="0.8" />
<line x1="313.67" y1="210.90" x2="318.07" y2="210.90" stroke="#3a3a3a" stroke-width="0.9" />
<line x1="312.47" y1="208.60" x2="319.27" y2="208.60" stroke="#333" stroke-width="1.0" />
<text x="315.87" y="209.20" font-size="7" text-anchor="middle" fill="#333">****</text>
<rect x="322.94" y="192.25" width="6.60" height="34.00" fill="#e8897a" />
<line x1="326.24" y1="192.25" x2="326.24" y2="183.48" stroke="#3a3a3a" stroke-width="0.8" />
<line x1="324.04" y1="183.48" x2="328.44" y2="183.48" stroke="#3a3a3a" stroke-width="0.9" />
<rect x="333.31" y="190.06" width="6.60" height="36.19" fill="#e8897a" />
<line x1="336.61" y1="190.06" x2="336.61" y2="182.93" stroke="#3a3a3a" stroke-width="0.8" />
<line x1="334.41" y1="182.93" x2="338.81" y2="182.93" stroke="#3a3a3a" stroke-width="0.9" />
<rect x="343.67" y="221.86" width="6.60" height="4.39" fill="#e8897a" />
<line x1="346.97" y1="221.86" x2="346.97" y2="220.22" stroke="#3a3a3a" stroke-width="0.8" />
<line x1="344.77" y1="220.22" x2="349.17" y2="220.22" stroke="#3a3a3a" stroke-width="0.9" />
<line x1="343.57" y1="217.92" x2="350.37" y2="217.92" stroke="#333" stroke-width="1.0" />
<text x="346.97" y="218.52" font-size="7" text-anchor="middle" fill="#333">****</text>
<rect x="354.04" y="187.87" width="6.60" height="38.38" fill="#e8897a" />
<line x1="357.34" y1="187.87" x2="357.34" y2="181.29" stroke="#3a3a3a" stroke-width="0.8" />
<line x1="355.14" y1="181.29" x2="359.54" y2="181.29" stroke="#3a3a3a" stroke-width="0.9" />
<rect x="364.41" y="202.67" width="6.60" height="23.58" fill="#e8897a" />
<line x1="367.71" y1="202.67" x2="367.71" y2="196.64" stroke="#3a3a3a" stroke-width="0.8" />
<line x1="365.51" y1="196.64" x2="369.91" y2="196.64" stroke="#3a3a3a" stroke-width="0.9" />
<rect x="374.78" y="193.35" width="6.60" height="32.90" fill="#e8897a" />
<line x1="378.08" y1="193.35" x2="378.08" y2="187.87" stroke="#3a3a3a" stroke-width="0.8" />
<line x1="375.88" y1="187.87" x2="380.28" y2="187.87" stroke="#3a3a3a" stroke-width="0.9" />
<rect x="385.15" y="208.16" width="6.60" height="18.10" fill="#e8897a" />
<line x1="388.45" y1="208.16" x2="388.45" y2="204.32" stroke="#3a3a3a" stroke-width="0.8" />
<line x1="386.25" y1="204.32" x2="390.65" y2="204.32" stroke="#3a3a3a" stroke-width="0.9" />
<line x1="385.05" y1="202.02" x2="391.85" y2="202.02" stroke="#333" stroke-width="1.0" />
<text x="388.45" y="202.62" font-size="7" text-anchor="middle" fill="#333">**</text>
<rect x="395.52" y="204.87" width="6.60" height="21.39" fill="#e8897a" />
<line x1="398.82" y1="204.87" x2="398.82" y2="201.03" stroke="#3a3a3a" stroke-width="0.8" />
<line x1="396.62" y1="201.03" x2="401.02" y2="201.03" stroke="#3a3a3a" stroke-width="0.9" />
<line x1="395.42" y1="198.73" x2="402.22" y2="198.73" stroke="#333" stroke-width="1.0" />
<text x="398.82" y="199.33" font-size="7" text-anchor="middle" fill="#333">**</text>
<rect x="405.88" y="207.61" width="6.60" height="18.64" fill="#e8897a" />
<line x1="409.18" y1="207.61" x2="409.18" y2="202.67" stroke="#3a3a3a" stroke-width="0.8" />
<line x1="406.98" y1="202.67" x2="411.38" y2="202.67" stroke="#3a3a3a" stroke-width="0.9" />
<line x1="405.78" y1="200.37" x2="412.58" y2="200.37" stroke="#333" stroke-width="1.0" />
<text x="409.18" y="200.97" font-size="7" text-anchor="middle" fill="#333">**</text>
<rect x="416.25" y="212.54" width="6.60" height="13.71" fill="#e8897a" />
<line x1="419.55" y1="212.54" x2="419.55" y2="208.70" stroke="#3a3a3a" stroke-width="0.8" />
<line x1="417.35" y1="208.70" x2="421.75" y2="208.70" stroke="#3a3a3a" stroke-width="0.9" />
<line x1="416.15" y1="206.40" x2="422.95" y2="206.40" stroke="#333" stroke-width="1.0" />
<text x="419.55" y="207.00" font-size="7" text-anchor="middle" fill="#333">****</text>
<rect x="426.62" y="185.12" width="6.60" height="41.12" fill="#e8897a" />
<line x1="429.92" y1="185.12" x2="429.92" y2="176.90" stroke="#3a3a3a" stroke-width="0.8" />
<line x1="427.72" y1="176.90" x2="432.12" y2="176.90" stroke="#3a3a3a" stroke-width="0.9" />
<rect x="436.99" y="188.41" width="6.60" height="37.84" fill="#e8897a" />
<line x1="440.29" y1="188.41" x2="440.29" y2="178.00" stroke="#3a3a3a" stroke-width="0.8" />
<line x1="438.09" y1="178.00" x2="442.49" y2="178.00" stroke="#3a3a3a" stroke-width="0.9" />
<rect x="447.36" y="185.12" width="6.60" height="41.12" fill="#e8897a" />
<line x1="450.66" y1="185.12" x2="450.66" y2="175.25" stroke="#3a3a3a" stroke-width="0.8" />
<line x1="448.46" y1="175.25" x2="452.86" y2="175.25" stroke="#3a3a3a" stroke-width="0.9" />
<rect x="457.73" y="209.80" width="6.60" height="16.45" fill="#e8897a" />
<line x1="461.03" y1="209.80" x2="461.03" y2="207.06" stroke="#3a3a3a" stroke-width="0.8" />
<line x1="458.83" y1="207.06" x2="463.23" y2="207.06" stroke="#3a3a3a" stroke-width="0.9" />
<line x1="457.63" y1="204.76" x2="464.43" y2="204.76" stroke="#333" stroke-width="1.0" />
<text x="461.03" y="205.36" font-size="7" text-anchor="middle" fill="#333">**</text>
<rect x="468.09" y="205.41" width="6.60" height="20.84" fill="#e8897a" />
<line x1="471.39" y1="205.41" x2="471.39" y2="202.67" stroke="#3a3a3a" stroke-width="0.8" />
<line x1="469.19" y1="202.67" x2="473.59" y2="202.67" stroke="#3a3a3a" stroke-width="0.9" />
<rect x="478.46" y="209.25" width="6.60" height="17.00" fill="#e8897a" />
<line x1="481.76" y1="209.25" x2="481.76" y2="206.51" stroke="#3a3a3a" stroke-width="0.8" />
<line x1="479.56" y1="206.51" x2="483.96" y2="206.51" stroke="#3a3a3a" stroke-width="0.9" />
<line x1="478.36" y1="204.21" x2="485.16" y2="204.21" stroke="#333" stroke-width="1.0" />
<text x="481.76" y="204.81" font-size="7" text-anchor="middle" fill="#333">*</text>
<rect x="488.83" y="203.22" width="6.60" height="23.03" fill="#e8897a" />
<line x1="492.13" y1="203.22" x2="492.13" y2="198.83" stroke="#3a3a3a" stroke-width="0.8" />
<line x1="489.93" y1="198.83" x2="494.33" y2="198.83" stroke="#3a3a3a" stroke-width="0.9" />
<rect x="499.20" y="171.42" width="6.60" height="54.83" fill="#c5c5c9" />
<line x1="502.50" y1="171.42" x2="502.50" y2="165.38" stroke="#3a3a3a" stroke-width="0.8" />
<line x1="500.30" y1="165.38" x2="504.70" y2="165.38" stroke="#3a3a3a" stroke-width="0.9" />
<line x1="298.55" y1="143.00" x2="298.55" y2="226.85" stroke="#231f20" stroke-width="1.25" />
<line x1="297.95" y1="226.45" x2="509.00" y2="226.45" stroke="#231f20" stroke-width="1.25" />
<line x1="295.25" y1="226.45" x2="298.25" y2="226.45" stroke="#231f20" stroke-width="1.1" />
<text x="292.75" y="229.55" font-size="8" text-anchor="end">0.0</text>
<line x1="295.25" y1="199.03" x2="298.25" y2="199.03" stroke="#231f20" stroke-width="1.1" />
<text x="292.75" y="202.13" font-size="8" text-anchor="end">0.5</text>
<line x1="295.25" y1="171.62" x2="298.25" y2="171.62" stroke="#231f20" stroke-width="1.1" />
<text x="292.75" y="174.72" font-size="8" text-anchor="end">1.0</text>
<line x1="295.25" y1="144.20" x2="298.25" y2="144.20" stroke="#231f20" stroke-width="1.1" />
<text x="292.75" y="147.30" font-size="8" text-anchor="end">1.5</text>
<line x1="305.50" y1="226.25" x2="305.50" y2="229.45" stroke="#231f20" stroke-width="1.1" />
<text x="307.50" y="232.45" font-size="6.8" text-anchor="end" fill="#333" transform="rotate(-45 307.50 232.45)">–Gly</text>
<line x1="315.87" y1="226.25" x2="315.87" y2="229.45" stroke="#231f20" stroke-width="1.1" />
<text x="317.87" y="232.45" font-size="6.8" text-anchor="end" fill="#333" transform="rotate(-45 317.87 232.45)">–Arg</text>
<line x1="326.24" y1="226.25" x2="326.24" y2="229.45" stroke="#231f20" stroke-width="1.1" />
<text x="328.24" y="232.45" font-size="6.8" text-anchor="end" fill="#333" transform="rotate(-45 328.24 232.45)">–Asp</text>
<line x1="336.61" y1="226.25" x2="336.61" y2="229.45" stroke="#231f20" stroke-width="1.1" />
<text x="338.61" y="232.45" font-size="6.8" text-anchor="end" fill="#333" transform="rotate(-45 338.61 232.45)">–Asn</text>
<line x1="346.97" y1="226.25" x2="346.97" y2="229.45" stroke="#231f20" stroke-width="1.1" />
<text x="348.97" y="232.45" font-size="6.8" text-anchor="end" fill="#333" transform="rotate(-45 348.97 232.45)">–Cys</text>
<line x1="357.34" y1="226.25" x2="357.34" y2="229.45" stroke="#231f20" stroke-width="1.1" />
<text x="359.34" y="232.45" font-size="6.8" text-anchor="end" fill="#333" transform="rotate(-45 359.34 232.45)">–Glu</text>
<line x1="367.71" y1="226.25" x2="367.71" y2="229.45" stroke="#231f20" stroke-width="1.1" />
<text x="369.71" y="232.45" font-size="6.8" text-anchor="end" fill="#333" transform="rotate(-45 369.71 232.45)">–Gln</text>
<line x1="378.08" y1="226.25" x2="378.08" y2="229.45" stroke="#231f20" stroke-width="1.1" />
<text x="380.08" y="232.45" font-size="6.8" text-anchor="end" fill="#333" transform="rotate(-45 380.08 232.45)">–His</text>
<line x1="388.45" y1="226.25" x2="388.45" y2="229.45" stroke="#231f20" stroke-width="1.1" />
<text x="390.45" y="232.45" font-size="6.8" text-anchor="end" fill="#333" transform="rotate(-45 390.45 232.45)">–Ile</text>
<line x1="398.82" y1="226.25" x2="398.82" y2="229.45" stroke="#231f20" stroke-width="1.1" />
<text x="400.82" y="232.45" font-size="6.8" text-anchor="end" fill="#333" transform="rotate(-45 400.82 232.45)">–Leu</text>
<line x1="409.18" y1="226.25" x2="409.18" y2="229.45" stroke="#231f20" stroke-width="1.1" />
<text x="411.18" y="232.45" font-size="6.8" text-anchor="end" fill="#333" transform="rotate(-45 411.18 232.45)">–Lys</text>
<line x1="419.55" y1="226.25" x2="419.55" y2="229.45" stroke="#231f20" stroke-width="1.1" />
<text x="421.55" y="232.45" font-size="6.8" text-anchor="end" fill="#333" transform="rotate(-45 421.55 232.45)">–Met</text>
<line x1="429.92" y1="226.25" x2="429.92" y2="229.45" stroke="#231f20" stroke-width="1.1" />
<text x="431.92" y="232.45" font-size="6.8" text-anchor="end" fill="#333" transform="rotate(-45 431.92 232.45)">–Phe</text>
<line x1="440.29" y1="226.25" x2="440.29" y2="229.45" stroke="#231f20" stroke-width="1.1" />
<text x="442.29" y="232.45" font-size="6.8" text-anchor="end" fill="#333" transform="rotate(-45 442.29 232.45)">–Pro</text>
<line x1="450.66" y1="226.25" x2="450.66" y2="229.45" stroke="#231f20" stroke-width="1.1" />
<text x="452.66" y="232.45" font-size="6.8" text-anchor="end" fill="#333" transform="rotate(-45 452.66 232.45)">–Ser</text>
<line x1="461.03" y1="226.25" x2="461.03" y2="229.45" stroke="#231f20" stroke-width="1.1" />
<text x="463.03" y="232.45" font-size="6.8" text-anchor="end" fill="#333" transform="rotate(-45 463.03 232.45)">–Thr</text>
<line x1="471.39" y1="226.25" x2="471.39" y2="229.45" stroke="#231f20" stroke-width="1.1" />
<text x="473.39" y="232.45" font-size="6.8" text-anchor="end" fill="#333" transform="rotate(-45 473.39 232.45)">–Trp</text>
<line x1="481.76" y1="226.25" x2="481.76" y2="229.45" stroke="#231f20" stroke-width="1.1" />
<text x="483.76" y="232.45" font-size="6.8" text-anchor="end" fill="#333" transform="rotate(-45 483.76 232.45)">–Tyr</text>
<line x1="492.13" y1="226.25" x2="492.13" y2="229.45" stroke="#231f20" stroke-width="1.1" />
<text x="494.13" y="232.45" font-size="6.8" text-anchor="end" fill="#333" transform="rotate(-45 494.13 232.45)">–Val</text>
<line x1="502.50" y1="226.25" x2="502.50" y2="229.45" stroke="#231f20" stroke-width="1.1" />
<text x="504.50" y="232.45" font-size="6.8" text-anchor="end" fill="#333" transform="rotate(-45 504.50 232.45)">AA Complete</text>
<text x="276.20" y="182.50" font-size="9.6" text-anchor="middle" fill="#262626" transform="rotate(-90 276.20 182.50)" textLength="50.00" lengthAdjust="spacingAndGlyphs" stroke="#262626" stroke-width="0.22">Rel. cell counts</text>
<text x="303.60" y="144.20" font-size="8.3">CD34<tspan dy="-2.6" font-size="5.8">+</tspan><tspan dy="2.6">CD38</tspan><tspan dy="-2.6" font-size="5.8">−</tspan><tspan dy="2.6"> (n=3)</tspan></text>
<text x="428.50" y="13.10" font-size="6.7" text-anchor="end">**** <tspan font-style="italic">P</tspan> &lt; 0.0001</text>
<text x="428.50" y="21.10" font-size="6.7" text-anchor="end">*** <tspan font-style="italic">P</tspan> &lt; 0.001</text>
<text x="428.50" y="29.10" font-size="6.7" text-anchor="end">** <tspan font-style="italic">P</tspan> &lt; 0.01</text>
<text x="428.50" y="37.10" font-size="6.7" text-anchor="end">*<tspan font-style="italic">P</tspan> &lt; 0.05</text>
<text x="8.30" y="11.10" font-size="11.3" font-weight="bold" fill="#111">A</text>
<text x="268.30" y="10.20" font-size="11.3" font-weight="bold" fill="#111">B</text>
<text x="2.30" y="280.50" font-size="11.3" font-weight="bold" fill="#111">C</text>
<path d="M64.65 379.19 L65.70 379.17 L66.74 379.16 L67.79 379.13 L68.84 379.11 L69.88 379.08 L70.93 379.04 L71.98 378.99 L73.02 378.94 L74.07 378.87 L75.12 378.79 L76.16 378.68 L77.21 378.56 L78.26 378.41 L79.30 378.23 L80.35 378.01 L81.40 377.74 L82.44 377.42 L83.49 377.03 L84.54 376.56 L85.58 375.99 L86.63 375.32 L87.68 374.52 L88.72 373.57 L89.77 372.46 L90.82 371.16 L91.86 369.65 L92.91 367.93 L93.96 365.97 L95.00 363.79 L96.05 361.38 L97.10 358.76 L98.14 355.97 L99.19 353.05 L100.24 350.04 L101.28 347.02 L102.33 344.03 L103.38 341.13 L104.42 338.38 L105.47 335.81 L106.52 333.45 L107.56 331.32 L108.61 329.42 L109.66 327.74 L110.70 326.29 L111.75 325.03 L112.80 323.96 L113.84 323.05 L114.89 322.28 L115.94 321.63 L116.98 321.09 L118.03 320.64 L119.08 320.27 L120.12 319.96 L121.17 319.70 L122.22 319.49 L123.26 319.32 L124.31 319.17 L125.36 319.06 L126.40 318.96 L127.45 318.88" fill="none" stroke="#1f4e79" stroke-width="1.3"/>
<path d="M64.65 378.71 L65.70 378.63 L66.74 378.53 L67.79 378.42 L68.84 378.30 L69.88 378.15 L70.93 377.98 L71.98 377.79 L73.02 377.56 L74.07 377.31 L75.12 377.01 L76.16 376.67 L77.21 376.29 L78.26 375.85 L79.30 375.35 L80.35 374.78 L81.40 374.14 L82.44 373.42 L83.49 372.60 L84.54 371.69 L85.58 370.67 L86.63 369.54 L87.68 368.29 L88.72 366.92 L89.77 365.42 L90.82 363.80 L91.86 362.06 L92.91 360.21 L93.96 358.25 L95.00 356.21 L96.05 354.09 L97.10 351.92 L98.14 349.71 L99.19 347.50 L100.24 345.30 L101.28 343.14 L102.33 341.04 L103.38 339.01 L104.42 337.08 L105.47 335.26 L106.52 333.55 L107.56 331.96 L108.61 330.50 L109.66 329.15 L110.70 327.93 L111.75 326.83 L112.80 325.84 L113.84 324.95 L114.89 324.16 L115.94 323.45 L116.98 322.83 L118.03 322.28 L119.08 321.80 L120.12 321.37 L121.17 321.00 L122.22 320.68 L123.26 320.39 L124.31 320.14 L125.36 319.93 L126.40 319.74 L127.45 319.58" fill="none" stroke="#e0247e" stroke-width="1.3"/>
<path d="M64.65 378.85 L65.70 378.76 L66.74 378.64 L67.79 378.49 L68.84 378.31 L69.88 378.09 L70.93 377.82 L71.98 377.49 L73.02 377.08 L74.07 376.59 L75.12 375.98 L76.16 375.25 L77.21 374.37 L78.26 373.32 L79.30 372.06 L80.35 370.59 L81.40 368.86 L82.44 366.88 L83.49 364.63 L84.54 362.11 L85.58 359.35 L86.63 356.38 L87.68 353.24 L88.72 350.01 L89.77 346.75 L90.82 343.54 L91.86 340.45 L92.91 337.53 L93.96 334.84 L95.00 332.41 L96.05 330.24 L97.10 328.34 L98.14 326.70 L99.19 325.29 L100.24 324.10 L101.28 323.10 L102.33 322.27 L103.38 321.58 L104.42 321.01 L105.47 320.54 L106.52 320.16 L107.56 319.85 L108.61 319.60 L109.66 319.39 L110.70 319.22 L111.75 319.09 L112.80 318.98 L113.84 318.89 L114.89 318.82 L115.94 318.76 L116.98 318.71 L118.03 318.67 L119.08 318.64 L120.12 318.62 L121.17 318.60 L122.22 318.58 L123.26 318.57 L124.31 318.56 L125.36 318.55 L126.40 318.54 L127.45 318.54" fill="none" stroke="#3fb5c8" stroke-width="1.3"/>
<path d="M64.65 378.01 L65.70 377.78 L66.74 377.52 L67.79 377.21 L68.84 376.85 L69.88 376.43 L70.93 375.94 L71.98 375.37 L73.02 374.71 L74.07 373.95 L75.12 373.07 L76.16 372.07 L77.21 370.93 L78.26 369.65 L79.30 368.20 L80.35 366.59 L81.40 364.82 L82.44 362.88 L83.49 360.78 L84.54 358.54 L85.58 356.18 L86.63 353.72 L87.68 351.19 L88.72 348.63 L89.77 346.08 L90.82 343.56 L91.86 341.12 L92.91 338.78 L93.96 336.57 L95.00 334.50 L96.05 332.59 L97.10 330.85 L98.14 329.27 L99.19 327.86 L100.24 326.60 L101.28 325.49 L102.33 324.51 L103.38 323.66 L104.42 322.92 L105.47 322.28 L106.52 321.72 L107.56 321.25 L108.61 320.84 L109.66 320.49 L110.70 320.19 L111.75 319.94 L112.80 319.72 L113.84 319.54 L114.89 319.38 L115.94 319.25 L116.98 319.13 L118.03 319.04 L119.08 318.96 L120.12 318.89 L121.17 318.83 L122.22 318.78 L123.26 318.74 L124.31 318.71 L125.36 318.68 L126.40 318.65 L127.45 318.63" fill="none" stroke="#a79bcb" stroke-width="1.3"/>
<path d="M64.65 378.81 L65.70 378.71 L66.74 378.59 L67.79 378.44 L68.84 378.26 L69.88 378.03 L70.93 377.76 L71.98 377.43 L73.02 377.02 L74.07 376.53 L75.12 375.94 L76.16 375.23 L77.21 374.38 L78.26 373.37 L79.30 372.17 L80.35 370.77 L81.40 369.14 L82.44 367.27 L83.49 365.15 L84.54 362.78 L85.58 360.18 L86.63 357.37 L87.68 354.40 L88.72 351.31 L89.77 348.16 L90.82 345.04 L91.86 341.99 L92.91 339.09 L93.96 336.37 L95.00 333.87 L96.05 331.62 L97.10 329.61 L98.14 327.86 L99.19 326.33 L100.24 325.03 L101.28 323.92 L102.33 322.98 L103.38 322.19 L104.42 321.54 L105.47 321.00 L106.52 320.55 L107.56 320.18 L108.61 319.87 L109.66 319.62 L110.70 319.42 L111.75 319.25 L112.80 319.12 L113.84 319.00 L114.89 318.91 L115.94 318.84 L116.98 318.78 L118.03 318.73 L119.08 318.69 L120.12 318.66 L121.17 318.63 L122.22 318.61 L123.26 318.59 L124.31 318.58 L125.36 318.57 L126.40 318.56 L127.45 318.55" fill="none" stroke="#4b2070" stroke-width="1.3"/>
<path d="M64.65 376.07 L65.70 375.63 L66.74 375.13 L67.79 374.57 L68.84 373.93 L69.88 373.23 L70.93 372.43 L71.98 371.55 L73.02 370.57 L74.07 369.49 L75.12 368.31 L76.16 367.02 L77.21 365.61 L78.26 364.09 L79.30 362.47 L80.35 360.74 L81.40 358.92 L82.44 357.01 L83.49 355.02 L84.54 352.99 L85.58 350.91 L86.63 348.82 L87.68 346.72 L88.72 344.65 L89.77 342.62 L90.82 340.64 L91.86 338.73 L92.91 336.92 L93.96 335.19 L95.00 333.57 L96.05 332.07 L97.10 330.67 L98.14 329.38 L99.19 328.20 L100.24 327.13 L101.28 326.16 L102.33 325.28 L103.38 324.49 L104.42 323.79 L105.47 323.16 L106.52 322.60 L107.56 322.11 L108.61 321.67 L109.66 321.28 L110.70 320.94 L111.75 320.63 L112.80 320.37 L113.84 320.14 L114.89 319.93 L115.94 319.75 L116.98 319.60 L118.03 319.46 L119.08 319.34 L120.12 319.23 L121.17 319.14 L122.22 319.06 L123.26 318.99 L124.31 318.93 L125.36 318.88 L126.40 318.83 L127.45 318.79" fill="none" stroke="#5aaa46" stroke-width="1.3"/>
<path d="M64.65 378.68 L65.70 378.56 L66.74 378.40 L67.79 378.22 L68.84 378.00 L69.88 377.73 L70.93 377.40 L71.98 377.01 L73.02 376.54 L74.07 375.97 L75.12 375.29 L76.16 374.48 L77.21 373.53 L78.26 372.41 L79.30 371.10 L80.35 369.59 L81.40 367.86 L82.44 365.89 L83.49 363.70 L84.54 361.28 L85.58 358.66 L86.63 355.86 L87.68 352.93 L88.72 349.93 L89.77 346.90 L90.82 343.91 L91.86 341.02 L92.91 338.27 L93.96 335.71 L95.00 333.36 L96.05 331.24 L97.10 329.35 L98.14 327.68 L99.19 326.23 L100.24 324.99 L101.28 323.92 L102.33 323.01 L103.38 322.25 L104.42 321.61 L105.47 321.07 L106.52 320.63 L107.56 320.26 L108.61 319.95 L109.66 319.69 L110.70 319.48 L111.75 319.31 L112.80 319.17 L113.84 319.05 L114.89 318.95 L115.94 318.88 L116.98 318.81 L118.03 318.76 L119.08 318.71 L120.12 318.68 L121.17 318.65 L122.22 318.62 L123.26 318.60 L124.31 318.59 L125.36 318.58 L126.40 318.56 L127.45 318.56" fill="none" stroke="#f5a11f" stroke-width="1.3"/>
<line x1="64.65" y1="378.02" x2="64.65" y2="370.62" stroke="#f5a11f" stroke-width="0.6" />
<line x1="63.15" y1="370.62" x2="66.15" y2="370.62" stroke="#f5a11f" stroke-width="0.6" />
<line x1="63.15" y1="378.02" x2="66.15" y2="378.02" stroke="#f5a11f" stroke-width="0.6" />
<rect x="63.45" y="373.12" width="2.40" height="2.40" fill="#f5a11f" />
<line x1="86.60" y1="360.75" x2="86.60" y2="350.89" stroke="#f5a11f" stroke-width="0.6" />
<line x1="85.10" y1="350.89" x2="88.10" y2="350.89" stroke="#f5a11f" stroke-width="0.6" />
<line x1="85.10" y1="360.75" x2="88.10" y2="360.75" stroke="#f5a11f" stroke-width="0.6" />
<rect x="85.40" y="354.62" width="2.40" height="2.40" fill="#f5a11f" />
<line x1="96.05" y1="343.49" x2="96.05" y2="321.29" stroke="#f5a11f" stroke-width="0.6" />
<line x1="94.55" y1="321.29" x2="97.55" y2="321.29" stroke="#f5a11f" stroke-width="0.6" />
<line x1="94.55" y1="343.49" x2="97.55" y2="343.49" stroke="#f5a11f" stroke-width="0.6" />
<rect x="94.85" y="331.19" width="2.40" height="2.40" fill="#f5a11f" />
<line x1="118.00" y1="321.29" x2="118.00" y2="316.36" stroke="#f5a11f" stroke-width="0.6" />
<line x1="116.50" y1="316.36" x2="119.50" y2="316.36" stroke="#f5a11f" stroke-width="0.6" />
<line x1="116.50" y1="321.29" x2="119.50" y2="321.29" stroke="#f5a11f" stroke-width="0.6" />
<rect x="116.80" y="317.62" width="2.40" height="2.40" fill="#f5a11f" />
<line x1="127.45" y1="327.46" x2="127.45" y2="317.59" stroke="#f5a11f" stroke-width="0.6" />
<line x1="125.95" y1="317.59" x2="128.95" y2="317.59" stroke="#f5a11f" stroke-width="0.6" />
<line x1="125.95" y1="327.46" x2="128.95" y2="327.46" stroke="#f5a11f" stroke-width="0.6" />
<rect x="126.25" y="321.32" width="2.40" height="2.40" fill="#f5a11f" />
<line x1="64.65" y1="378.02" x2="64.65" y2="373.08" stroke="#5aaa46" stroke-width="0.6" />
<line x1="63.15" y1="373.08" x2="66.15" y2="373.08" stroke="#5aaa46" stroke-width="0.6" />
<line x1="63.15" y1="378.02" x2="66.15" y2="378.02" stroke="#5aaa46" stroke-width="0.6" />
<rect x="63.45" y="374.35" width="2.40" height="2.40" fill="#5aaa46" />
<line x1="86.60" y1="356.44" x2="86.60" y2="350.27" stroke="#5aaa46" stroke-width="0.6" />
<line x1="85.10" y1="350.27" x2="88.10" y2="350.27" stroke="#5aaa46" stroke-width="0.6" />
<line x1="85.10" y1="356.44" x2="88.10" y2="356.44" stroke="#5aaa46" stroke-width="0.6" />
<rect x="85.40" y="352.15" width="2.40" height="2.40" fill="#5aaa46" />
<line x1="96.05" y1="337.94" x2="96.05" y2="330.54" stroke="#5aaa46" stroke-width="0.6" />
<line x1="94.55" y1="330.54" x2="97.55" y2="330.54" stroke="#5aaa46" stroke-width="0.6" />
<line x1="94.55" y1="337.94" x2="97.55" y2="337.94" stroke="#5aaa46" stroke-width="0.6" />
<rect x="94.85" y="333.04" width="2.40" height="2.40" fill="#5aaa46" />
<line x1="118.00" y1="320.67" x2="118.00" y2="316.97" stroke="#5aaa46" stroke-width="0.6" />
<line x1="116.50" y1="316.97" x2="119.50" y2="316.97" stroke="#5aaa46" stroke-width="0.6" />
<line x1="116.50" y1="320.67" x2="119.50" y2="320.67" stroke="#5aaa46" stroke-width="0.6" />
<rect x="116.80" y="317.62" width="2.40" height="2.40" fill="#5aaa46" />
<line x1="127.45" y1="320.06" x2="127.45" y2="316.36" stroke="#5aaa46" stroke-width="0.6" />
<line x1="125.95" y1="316.36" x2="128.95" y2="316.36" stroke="#5aaa46" stroke-width="0.6" />
<line x1="125.95" y1="320.06" x2="128.95" y2="320.06" stroke="#5aaa46" stroke-width="0.6" />
<rect x="126.25" y="317.01" width="2.40" height="2.40" fill="#5aaa46" />
<line x1="64.65" y1="379.25" x2="64.65" y2="376.78" stroke="#4b2070" stroke-width="0.6" />
<line x1="63.15" y1="376.78" x2="66.15" y2="376.78" stroke="#4b2070" stroke-width="0.6" />
<line x1="63.15" y1="379.25" x2="66.15" y2="379.25" stroke="#4b2070" stroke-width="0.6" />
<rect x="63.45" y="376.82" width="2.40" height="2.40" fill="#4b2070" />
<line x1="86.60" y1="360.75" x2="86.60" y2="355.82" stroke="#4b2070" stroke-width="0.6" />
<line x1="85.10" y1="355.82" x2="88.10" y2="355.82" stroke="#4b2070" stroke-width="0.6" />
<line x1="85.10" y1="360.75" x2="88.10" y2="360.75" stroke="#4b2070" stroke-width="0.6" />
<rect x="85.40" y="357.09" width="2.40" height="2.40" fill="#4b2070" />
<line x1="96.05" y1="337.94" x2="96.05" y2="331.77" stroke="#4b2070" stroke-width="0.6" />
<line x1="94.55" y1="331.77" x2="97.55" y2="331.77" stroke="#4b2070" stroke-width="0.6" />
<line x1="94.55" y1="337.94" x2="97.55" y2="337.94" stroke="#4b2070" stroke-width="0.6" />
<rect x="94.85" y="333.65" width="2.40" height="2.40" fill="#4b2070" />
<line x1="118.00" y1="324.37" x2="118.00" y2="316.97" stroke="#4b2070" stroke-width="0.6" />
<line x1="116.50" y1="316.97" x2="119.50" y2="316.97" stroke="#4b2070" stroke-width="0.6" />
<line x1="116.50" y1="324.37" x2="119.50" y2="324.37" stroke="#4b2070" stroke-width="0.6" />
<rect x="116.80" y="319.47" width="2.40" height="2.40" fill="#4b2070" />
<line x1="127.45" y1="322.52" x2="127.45" y2="315.12" stroke="#4b2070" stroke-width="0.6" />
<line x1="125.95" y1="315.12" x2="128.95" y2="315.12" stroke="#4b2070" stroke-width="0.6" />
<line x1="125.95" y1="322.52" x2="128.95" y2="322.52" stroke="#4b2070" stroke-width="0.6" />
<rect x="126.25" y="317.62" width="2.40" height="2.40" fill="#4b2070" />
<line x1="64.65" y1="378.02" x2="64.65" y2="374.32" stroke="#a79bcb" stroke-width="0.6" />
<line x1="63.15" y1="374.32" x2="66.15" y2="374.32" stroke="#a79bcb" stroke-width="0.6" />
<line x1="63.15" y1="378.02" x2="66.15" y2="378.02" stroke="#a79bcb" stroke-width="0.6" />
<rect x="63.45" y="374.97" width="2.40" height="2.40" fill="#a79bcb" />
<line x1="86.60" y1="360.75" x2="86.60" y2="354.59" stroke="#a79bcb" stroke-width="0.6" />
<line x1="85.10" y1="354.59" x2="88.10" y2="354.59" stroke="#a79bcb" stroke-width="0.6" />
<line x1="85.10" y1="360.75" x2="88.10" y2="360.75" stroke="#a79bcb" stroke-width="0.6" />
<rect x="85.40" y="356.47" width="2.40" height="2.40" fill="#a79bcb" />
<line x1="96.05" y1="339.79" x2="96.05" y2="332.39" stroke="#a79bcb" stroke-width="0.6" />
<line x1="94.55" y1="332.39" x2="97.55" y2="332.39" stroke="#a79bcb" stroke-width="0.6" />
<line x1="94.55" y1="339.79" x2="97.55" y2="339.79" stroke="#a79bcb" stroke-width="0.6" />
<rect x="94.85" y="334.89" width="2.40" height="2.40" fill="#a79bcb" />
<line x1="118.00" y1="321.29" x2="118.00" y2="317.59" stroke="#a79bcb" stroke-width="0.6" />
<line x1="116.50" y1="317.59" x2="119.50" y2="317.59" stroke="#a79bcb" stroke-width="0.6" />
<line x1="116.50" y1="321.29" x2="119.50" y2="321.29" stroke="#a79bcb" stroke-width="0.6" />
<rect x="116.80" y="318.24" width="2.40" height="2.40" fill="#a79bcb" />
<line x1="127.45" y1="320.06" x2="127.45" y2="316.36" stroke="#a79bcb" stroke-width="0.6" />
<line x1="125.95" y1="316.36" x2="128.95" y2="316.36" stroke="#a79bcb" stroke-width="0.6" />
<line x1="125.95" y1="320.06" x2="128.95" y2="320.06" stroke="#a79bcb" stroke-width="0.6" />
<rect x="126.25" y="317.01" width="2.40" height="2.40" fill="#a79bcb" />
<line x1="64.65" y1="378.63" x2="64.65" y2="376.17" stroke="#3fb5c8" stroke-width="0.6" />
<line x1="63.15" y1="376.17" x2="66.15" y2="376.17" stroke="#3fb5c8" stroke-width="0.6" />
<line x1="63.15" y1="378.63" x2="66.15" y2="378.63" stroke="#3fb5c8" stroke-width="0.6" />
<rect x="63.45" y="376.20" width="2.40" height="2.40" fill="#3fb5c8" />
<line x1="86.60" y1="359.52" x2="86.60" y2="354.59" stroke="#3fb5c8" stroke-width="0.6" />
<line x1="85.10" y1="354.59" x2="88.10" y2="354.59" stroke="#3fb5c8" stroke-width="0.6" />
<line x1="85.10" y1="359.52" x2="88.10" y2="359.52" stroke="#3fb5c8" stroke-width="0.6" />
<rect x="85.40" y="355.85" width="2.40" height="2.40" fill="#3fb5c8" />
<line x1="96.05" y1="336.09" x2="96.05" y2="329.92" stroke="#3fb5c8" stroke-width="0.6" />
<line x1="94.55" y1="329.92" x2="97.55" y2="329.92" stroke="#3fb5c8" stroke-width="0.6" />
<line x1="94.55" y1="336.09" x2="97.55" y2="336.09" stroke="#3fb5c8" stroke-width="0.6" />
<rect x="94.85" y="331.81" width="2.40" height="2.40" fill="#3fb5c8" />
<line x1="118.00" y1="320.67" x2="118.00" y2="316.97" stroke="#3fb5c8" stroke-width="0.6" />
<line x1="116.50" y1="316.97" x2="119.50" y2="316.97" stroke="#3fb5c8" stroke-width="0.6" />
<line x1="116.50" y1="320.67" x2="119.50" y2="320.67" stroke="#3fb5c8" stroke-width="0.6" />
<rect x="116.80" y="317.62" width="2.40" height="2.40" fill="#3fb5c8" />
<line x1="127.45" y1="319.44" x2="127.45" y2="315.74" stroke="#3fb5c8" stroke-width="0.6" />
<line x1="125.95" y1="315.74" x2="128.95" y2="315.74" stroke="#3fb5c8" stroke-width="0.6" />
<line x1="125.95" y1="319.44" x2="128.95" y2="319.44" stroke="#3fb5c8" stroke-width="0.6" />
<rect x="126.25" y="316.39" width="2.40" height="2.40" fill="#3fb5c8" />
<line x1="64.65" y1="379.25" x2="64.65" y2="376.78" stroke="#e0247e" stroke-width="0.6" />
<line x1="63.15" y1="376.78" x2="66.15" y2="376.78" stroke="#e0247e" stroke-width="0.6" />
<line x1="63.15" y1="379.25" x2="66.15" y2="379.25" stroke="#e0247e" stroke-width="0.6" />
<rect x="63.45" y="376.82" width="2.40" height="2.40" fill="#e0247e" />
<line x1="86.60" y1="371.85" x2="86.60" y2="365.68" stroke="#e0247e" stroke-width="0.6" />
<line x1="85.10" y1="365.68" x2="88.10" y2="365.68" stroke="#e0247e" stroke-width="0.6" />
<line x1="85.10" y1="371.85" x2="88.10" y2="371.85" stroke="#e0247e" stroke-width="0.6" />
<rect x="85.40" y="367.57" width="2.40" height="2.40" fill="#e0247e" />
<line x1="96.05" y1="360.75" x2="96.05" y2="350.89" stroke="#e0247e" stroke-width="0.6" />
<line x1="94.55" y1="350.89" x2="97.55" y2="350.89" stroke="#e0247e" stroke-width="0.6" />
<line x1="94.55" y1="360.75" x2="97.55" y2="360.75" stroke="#e0247e" stroke-width="0.6" />
<rect x="94.85" y="354.62" width="2.40" height="2.40" fill="#e0247e" />
<line x1="118.00" y1="324.37" x2="118.00" y2="319.44" stroke="#e0247e" stroke-width="0.6" />
<line x1="116.50" y1="319.44" x2="119.50" y2="319.44" stroke="#e0247e" stroke-width="0.6" />
<line x1="116.50" y1="324.37" x2="119.50" y2="324.37" stroke="#e0247e" stroke-width="0.6" />
<rect x="116.80" y="320.71" width="2.40" height="2.40" fill="#e0247e" />
<line x1="127.45" y1="321.91" x2="127.45" y2="316.97" stroke="#e0247e" stroke-width="0.6" />
<line x1="125.95" y1="316.97" x2="128.95" y2="316.97" stroke="#e0247e" stroke-width="0.6" />
<line x1="125.95" y1="321.91" x2="128.95" y2="321.91" stroke="#e0247e" stroke-width="0.6" />
<rect x="126.25" y="318.24" width="2.40" height="2.40" fill="#e0247e" />
<line x1="64.65" y1="379.25" x2="64.65" y2="378.02" stroke="#1f4e79" stroke-width="0.6" />
<line x1="63.15" y1="378.02" x2="66.15" y2="378.02" stroke="#1f4e79" stroke-width="0.6" />
<line x1="63.15" y1="379.25" x2="66.15" y2="379.25" stroke="#1f4e79" stroke-width="0.6" />
<rect x="63.45" y="377.43" width="2.40" height="2.40" fill="#1f4e79" />
<line x1="86.60" y1="376.17" x2="86.60" y2="372.47" stroke="#1f4e79" stroke-width="0.6" />
<line x1="85.10" y1="372.47" x2="88.10" y2="372.47" stroke="#1f4e79" stroke-width="0.6" />
<line x1="85.10" y1="376.17" x2="88.10" y2="376.17" stroke="#1f4e79" stroke-width="0.6" />
<rect x="85.40" y="373.12" width="2.40" height="2.40" fill="#1f4e79" />
<line x1="96.05" y1="370.62" x2="96.05" y2="350.89" stroke="#1f4e79" stroke-width="0.6" />
<line x1="94.55" y1="350.89" x2="97.55" y2="350.89" stroke="#1f4e79" stroke-width="0.6" />
<line x1="94.55" y1="370.62" x2="97.55" y2="370.62" stroke="#1f4e79" stroke-width="0.6" />
<rect x="94.85" y="359.55" width="2.40" height="2.40" fill="#1f4e79" />
<line x1="118.00" y1="324.99" x2="118.00" y2="318.82" stroke="#1f4e79" stroke-width="0.6" />
<line x1="116.50" y1="318.82" x2="119.50" y2="318.82" stroke="#1f4e79" stroke-width="0.6" />
<line x1="116.50" y1="324.99" x2="119.50" y2="324.99" stroke="#1f4e79" stroke-width="0.6" />
<rect x="116.80" y="320.71" width="2.40" height="2.40" fill="#1f4e79" />
<line x1="127.45" y1="326.84" x2="127.45" y2="312.04" stroke="#1f4e79" stroke-width="0.6" />
<line x1="125.95" y1="312.04" x2="128.95" y2="312.04" stroke="#1f4e79" stroke-width="0.6" />
<line x1="125.95" y1="326.84" x2="128.95" y2="326.84" stroke="#1f4e79" stroke-width="0.6" />
<rect x="126.25" y="318.24" width="2.40" height="2.40" fill="#1f4e79" />
<line x1="33.50" y1="285.50" x2="33.50" y2="380.00" stroke="#231f20" stroke-width="1.2" />
<line x1="33.00" y1="379.45" x2="161.00" y2="379.45" stroke="#231f20" stroke-width="1.2" />
<line x1="30.20" y1="379.25" x2="33.25" y2="379.25" stroke="#231f20" stroke-width="0.9" />
<text x="27.80" y="382.45" font-size="8.3" text-anchor="end">0</text>
<line x1="30.20" y1="348.42" x2="33.25" y2="348.42" stroke="#231f20" stroke-width="0.9" />
<text x="27.80" y="351.62" font-size="8.3" text-anchor="end">50</text>
<line x1="30.20" y1="317.59" x2="33.25" y2="317.59" stroke="#231f20" stroke-width="0.9" />
<text x="27.80" y="320.79" font-size="8.3" text-anchor="end">100</text>
<line x1="30.20" y1="286.76" x2="33.25" y2="286.76" stroke="#231f20" stroke-width="0.9" />
<text x="27.80" y="289.96" font-size="8.3" text-anchor="end">150</text>
<line x1="33.25" y1="379.25" x2="33.25" y2="382.50" stroke="#231f20" stroke-width="0.9" />
<text x="33.25" y="392.40" font-size="8.2" text-anchor="middle">0.0001</text>
<line x1="64.65" y1="379.25" x2="64.65" y2="382.50" stroke="#231f20" stroke-width="0.9" />
<text x="64.65" y="392.40" font-size="8.2" text-anchor="middle">0.001</text>
<line x1="96.05" y1="379.25" x2="96.05" y2="382.50" stroke="#231f20" stroke-width="0.9" />
<text x="96.05" y="392.40" font-size="8.2" text-anchor="middle">0.01</text>
<line x1="127.45" y1="379.25" x2="127.45" y2="382.50" stroke="#231f20" stroke-width="0.9" />
<text x="127.45" y="392.40" font-size="8.2" text-anchor="middle">0.1</text>
<line x1="158.85" y1="379.25" x2="158.85" y2="382.50" stroke="#231f20" stroke-width="0.9" />
<text x="158.85" y="392.40" font-size="8.2" text-anchor="middle">1</text>
<text x="98.30" y="404.80" font-size="9.6" text-anchor="middle" fill="#262626" textLength="109.00" lengthAdjust="spacingAndGlyphs" stroke="#262626" stroke-width="0.22">Methionine concentration (mM)</text>
<text x="9.80" y="331.25" font-size="9.6" text-anchor="middle" fill="#262626" transform="rotate(-90 9.80 331.25)" textLength="67.50" lengthAdjust="spacingAndGlyphs" stroke="#262626" stroke-width="0.22">Effect (%) cell counts</text>
<text x="187.50" y="286.50" font-size="7.6" textLength="18.50" lengthAdjust="spacingAndGlyphs">EC50</text>
<line x1="187.50" y1="287.50" x2="206.20" y2="287.50" stroke="#231f20" stroke-width="0.6" />
<line x1="134.50" y1="295.75" x2="143.00" y2="295.75" stroke="#f5a11f" stroke-width="1.0" />
<rect x="137.50" y="294.45" width="2.60" height="2.60" fill="#f5a11f" />
<text x="146.50" y="298.55" font-size="7.8" fill="#f5a11f">MOLM13</text>
<text x="187.50" y="298.55" font-size="7.8" fill="#f5a11f">0.006</text>
<line x1="134.50" y1="307.50" x2="143.00" y2="307.50" stroke="#5aaa46" stroke-width="1.0" />
<rect x="137.50" y="306.20" width="2.60" height="2.60" fill="#5aaa46" />
<text x="146.50" y="310.30" font-size="7.8" fill="#5aaa46">MV-411</text>
<text x="187.50" y="310.30" font-size="7.8" fill="#5aaa46">0.005</text>
<line x1="134.50" y1="319.00" x2="143.00" y2="319.00" stroke="#4b2070" stroke-width="1.0" />
<rect x="137.50" y="317.70" width="2.60" height="2.60" fill="#4b2070" />
<text x="146.50" y="321.80" font-size="7.8" fill="#4b2070">THP-1</text>
<text x="187.50" y="321.80" font-size="7.8" fill="#4b2070">0.006</text>
<line x1="134.50" y1="331.25" x2="143.00" y2="331.25" stroke="#a79bcb" stroke-width="1.0" />
<rect x="137.50" y="329.95" width="2.60" height="2.60" fill="#a79bcb" />
<text x="146.50" y="334.05" font-size="7.8" fill="#a79bcb">OCI-AML2</text>
<text x="187.50" y="334.05" font-size="7.8" fill="#a79bcb">0.006</text>
<line x1="134.50" y1="343.25" x2="143.00" y2="343.25" stroke="#3fb5c8" stroke-width="1.0" />
<rect x="137.50" y="341.95" width="2.60" height="2.60" fill="#3fb5c8" />
<text x="146.50" y="346.05" font-size="7.8" fill="#3fb5c8">OCI-AML3</text>
<text x="187.50" y="346.05" font-size="7.8" fill="#3fb5c8">0.006</text>
<line x1="134.50" y1="357.50" x2="143.00" y2="357.50" stroke="#e0247e" stroke-width="1.0" />
<rect x="137.50" y="356.20" width="2.60" height="2.60" fill="#e0247e" />
<text x="146.50" y="360.30" font-size="7.8" fill="#e0247e">K562</text>
<text x="187.50" y="360.30" font-size="7.8" fill="#e0247e">0.012</text>
<line x1="134.50" y1="369.50" x2="143.00" y2="369.50" stroke="#1f4e79" stroke-width="1.0" />
<rect x="137.50" y="368.20" width="2.60" height="2.60" fill="#1f4e79" />
<text x="146.50" y="372.30" font-size="7.8" fill="#1f4e79">HL60</text>
<text x="187.50" y="372.30" font-size="7.8" fill="#1f4e79">0.014</text>
<rect x="260.55" y="328.67" width="13.40" height="50.83" fill="#c5c5c9" />
<rect x="280.55" y="340.36" width="13.40" height="39.14" fill="#fab916" />
<rect x="300.55" y="328.67" width="13.40" height="50.83" fill="#44546a" />
<rect x="320.40" y="357.64" width="13.40" height="21.86" fill="#c8102e" />
<line x1="260.55" y1="328.67" x2="273.95" y2="328.67" stroke="#111" stroke-width="1.6" />
<line x1="300.55" y1="328.67" x2="313.95" y2="328.67" stroke="#111" stroke-width="1.6" />
<line x1="287.25" y1="343.41" x2="287.25" y2="337.31" stroke="#111" stroke-width="0.9" />
<line x1="283.05" y1="337.31" x2="291.45" y2="337.31" stroke="#111" stroke-width="0.9" />
<line x1="283.05" y1="343.41" x2="291.45" y2="343.41" stroke="#111" stroke-width="0.9" />
<line x1="327.10" y1="363.23" x2="327.10" y2="352.05" stroke="#111" stroke-width="0.9" />
<line x1="322.90" y1="352.05" x2="331.30" y2="352.05" stroke="#111" stroke-width="0.9" />
<line x1="322.90" y1="363.23" x2="331.30" y2="363.23" stroke="#111" stroke-width="0.9" />
<rect x="284.45" y="329.39" width="1.60" height="1.60" fill="#111" />
<rect x="288.45" y="329.39" width="1.60" height="1.60" fill="#111" />
<rect x="285.65" y="332.95" width="1.60" height="1.60" fill="#111" />
<rect x="288.85" y="332.95" width="1.60" height="1.60" fill="#111" />
<rect x="284.05" y="334.98" width="1.60" height="1.60" fill="#111" />
<rect x="287.25" y="336.00" width="1.60" height="1.60" fill="#111" />
<rect x="289.25" y="338.03" width="1.60" height="1.60" fill="#111" />
<rect x="284.85" y="339.05" width="1.60" height="1.60" fill="#111" />
<rect x="288.05" y="341.08" width="1.60" height="1.60" fill="#111" />
<rect x="285.65" y="343.12" width="1.60" height="1.60" fill="#111" />
<rect x="288.05" y="347.18" width="1.60" height="1.60" fill="#111" />
<rect x="286.45" y="352.27" width="1.60" height="1.60" fill="#111" />
<rect x="284.85" y="368.53" width="1.60" height="1.60" fill="#111" />
<rect x="287.25" y="330.41" width="1.60" height="1.60" fill="#111" />
<rect x="326.30" y="336.51" width="1.60" height="1.60" fill="#111" />
<rect x="323.90" y="344.13" width="1.60" height="1.60" fill="#111" />
<rect x="328.70" y="346.17" width="1.60" height="1.60" fill="#111" />
<rect x="326.30" y="350.74" width="1.60" height="1.60" fill="#111" />
<rect x="324.70" y="359.38" width="1.60" height="1.60" fill="#111" />
<rect x="327.90" y="363.45" width="1.60" height="1.60" fill="#111" />
<rect x="326.30" y="372.60" width="1.60" height="1.60" fill="#111" />
<rect x="326.30" y="377.18" width="1.60" height="1.60" fill="#111" />
<line x1="253.20" y1="302.05" x2="253.20" y2="380.10" stroke="#231f20" stroke-width="1.2" />
<line x1="252.60" y1="379.60" x2="339.00" y2="379.60" stroke="#231f20" stroke-width="1.2" />
<line x1="250.00" y1="379.50" x2="253.00" y2="379.50" stroke="#231f20" stroke-width="0.9" />
<text x="248.20" y="382.60" font-size="8.2" text-anchor="end">0</text>
<line x1="250.00" y1="354.08" x2="253.00" y2="354.08" stroke="#231f20" stroke-width="0.9" />
<text x="248.20" y="357.18" font-size="8.2" text-anchor="end">50</text>
<line x1="250.00" y1="328.67" x2="253.00" y2="328.67" stroke="#231f20" stroke-width="0.9" />
<text x="248.20" y="331.77" font-size="8.2" text-anchor="end">100</text>
<line x1="250.00" y1="303.25" x2="253.00" y2="303.25" stroke="#231f20" stroke-width="0.9" />
<text x="248.20" y="306.35" font-size="8.2" text-anchor="end">150</text>
<line x1="267.25" y1="379.50" x2="267.25" y2="382.70" stroke="#231f20" stroke-width="0.9" />
<text x="270.45" y="388.00" font-size="8.3" text-anchor="end" fill="#333" transform="rotate(-45 270.45 388.00)">AA Complete</text>
<line x1="287.25" y1="379.50" x2="287.25" y2="382.70" stroke="#231f20" stroke-width="0.9" />
<text x="290.45" y="388.00" font-size="8.3" text-anchor="end" fill="#333" transform="rotate(-45 290.45 388.00)">Met Free</text>
<line x1="307.25" y1="379.50" x2="307.25" y2="382.70" stroke="#231f20" stroke-width="0.9" />
<text x="310.45" y="388.00" font-size="8.3" text-anchor="end" fill="#333" transform="rotate(-45 310.45 388.00)">AA Complete</text>
<line x1="327.10" y1="379.50" x2="327.10" y2="382.70" stroke="#231f20" stroke-width="0.9" />
<text x="330.30" y="388.00" font-size="8.3" text-anchor="end" fill="#333" transform="rotate(-45 330.30 388.00)">Met Free</text>
<text x="229.80" y="339.40" font-size="9.6" text-anchor="middle" fill="#262626" transform="rotate(-90 229.80 339.40)" textLength="77.00" lengthAdjust="spacingAndGlyphs" stroke="#262626" stroke-width="0.22">Rel. viability (DAPI –) %</text>
<text x="287.00" y="301.30" font-size="7.6" text-anchor="middle">Healthy CD34<tspan dy="-2.6" font-size="5.8">+</tspan></text>
<text x="287.00" y="309.80" font-size="7.5" text-anchor="middle">(n=14)</text>
<text x="324.50" y="304.40" font-size="7.4" text-anchor="middle">AML</text>
<text x="324.50" y="313.40" font-size="7.5" text-anchor="middle">(n=8)</text>
<text x="287.25" y="321.40" font-size="8.5" text-anchor="middle" textLength="6.60" lengthAdjust="spacingAndGlyphs">**</text>
<line x1="283.70" y1="320.90" x2="290.80" y2="320.90" stroke="#231f20" stroke-width="0.8" />
<text x="327.00" y="336.40" font-size="8.5" text-anchor="middle" textLength="6.60" lengthAdjust="spacingAndGlyphs">**</text>
<line x1="323.50" y1="335.90" x2="330.50" y2="335.90" stroke="#231f20" stroke-width="0.8" />
<text x="220.50" y="280.50" font-size="11.3" font-weight="bold" fill="#111">D</text>
<rect x="390.10" y="328.08" width="13.30" height="51.17" fill="#c5c5c9" />
<rect x="409.95" y="357.25" width="13.30" height="22.00" fill="#fab916" />
<rect x="429.95" y="328.08" width="13.30" height="51.17" fill="#44546a" />
<rect x="449.95" y="365.95" width="13.30" height="13.30" fill="#c8102e" />
<line x1="390.10" y1="328.08" x2="403.40" y2="328.08" stroke="#111" stroke-width="1.6" />
<line x1="429.95" y1="328.08" x2="443.25" y2="328.08" stroke="#111" stroke-width="1.6" />
<line x1="416.60" y1="362.37" x2="416.60" y2="352.13" stroke="#111" stroke-width="0.9" />
<line x1="412.40" y1="352.13" x2="420.80" y2="352.13" stroke="#111" stroke-width="0.9" />
<line x1="412.40" y1="362.37" x2="420.80" y2="362.37" stroke="#111" stroke-width="0.9" />
<line x1="456.60" y1="369.02" x2="456.60" y2="362.88" stroke="#111" stroke-width="0.9" />
<line x1="452.40" y1="362.88" x2="460.80" y2="362.88" stroke="#111" stroke-width="0.9" />
<line x1="452.40" y1="369.02" x2="460.80" y2="369.02" stroke="#111" stroke-width="0.9" />
<rect x="415.80" y="315.00" width="1.60" height="1.60" fill="#111" />
<rect x="415.80" y="326.77" width="1.60" height="1.60" fill="#111" />
<rect x="416.20" y="344.68" width="1.60" height="1.60" fill="#111" />
<rect x="414.20" y="357.98" width="1.60" height="1.60" fill="#111" />
<rect x="417.40" y="359.01" width="1.60" height="1.60" fill="#111" />
<rect x="413.40" y="361.05" width="1.60" height="1.60" fill="#111" />
<rect x="417.00" y="363.10" width="1.60" height="1.60" fill="#111" />
<rect x="415.00" y="366.17" width="1.60" height="1.60" fill="#111" />
<rect x="418.20" y="367.19" width="1.60" height="1.60" fill="#111" />
<rect x="415.80" y="369.75" width="1.60" height="1.60" fill="#111" />
<rect x="414.20" y="373.33" width="1.60" height="1.60" fill="#111" />
<rect x="416.60" y="375.38" width="1.60" height="1.60" fill="#111" />
<rect x="415.80" y="377.43" width="1.60" height="1.60" fill="#111" />
<rect x="418.20" y="353.89" width="1.60" height="1.60" fill="#111" />
<rect x="455.80" y="344.68" width="1.60" height="1.60" fill="#111" />
<rect x="454.20" y="359.01" width="1.60" height="1.60" fill="#111" />
<rect x="457.40" y="361.05" width="1.60" height="1.60" fill="#111" />
<rect x="455.80" y="367.19" width="1.60" height="1.60" fill="#111" />
<rect x="453.80" y="370.26" width="1.60" height="1.60" fill="#111" />
<rect x="457.40" y="373.33" width="1.60" height="1.60" fill="#111" />
<rect x="455.80" y="376.40" width="1.60" height="1.60" fill="#111" />
<rect x="455.80" y="363.61" width="1.60" height="1.60" fill="#111" />
<line x1="384.45" y1="301.30" x2="384.45" y2="379.85" stroke="#231f20" stroke-width="1.2" />
<line x1="383.85" y1="379.35" x2="469.00" y2="379.35" stroke="#231f20" stroke-width="1.2" />
<line x1="381.25" y1="379.25" x2="384.25" y2="379.25" stroke="#231f20" stroke-width="0.9" />
<text x="379.45" y="382.35" font-size="8.2" text-anchor="end">0</text>
<line x1="381.25" y1="353.67" x2="384.25" y2="353.67" stroke="#231f20" stroke-width="0.9" />
<text x="379.45" y="356.77" font-size="8.2" text-anchor="end">50</text>
<line x1="381.25" y1="328.08" x2="384.25" y2="328.08" stroke="#231f20" stroke-width="0.9" />
<text x="379.45" y="331.18" font-size="8.2" text-anchor="end">100</text>
<line x1="381.25" y1="302.50" x2="384.25" y2="302.50" stroke="#231f20" stroke-width="0.9" />
<text x="379.45" y="305.60" font-size="8.2" text-anchor="end">150</text>
<line x1="396.75" y1="379.25" x2="396.75" y2="382.45" stroke="#231f20" stroke-width="0.9" />
<text x="399.95" y="387.75" font-size="8.3" text-anchor="end" fill="#333" transform="rotate(-45 399.95 387.75)">AA Complete</text>
<line x1="416.60" y1="379.25" x2="416.60" y2="382.45" stroke="#231f20" stroke-width="0.9" />
<text x="419.80" y="387.75" font-size="8.3" text-anchor="end" fill="#333" transform="rotate(-45 419.80 387.75)">Met Free</text>
<line x1="436.60" y1="379.25" x2="436.60" y2="382.45" stroke="#231f20" stroke-width="0.9" />
<text x="439.80" y="387.75" font-size="8.3" text-anchor="end" fill="#333" transform="rotate(-45 439.80 387.75)">AA Complete</text>
<line x1="456.60" y1="379.25" x2="456.60" y2="382.45" stroke="#231f20" stroke-width="0.9" />
<text x="459.80" y="387.75" font-size="8.3" text-anchor="end" fill="#333" transform="rotate(-45 459.80 387.75)">Met Free</text>
<text x="358.50" y="336.10" font-size="9.6" text-anchor="middle" fill="#262626" transform="rotate(-90 358.50 336.10)" textLength="93.00" lengthAdjust="spacingAndGlyphs" stroke="#262626" stroke-width="0.22">Rel. cell counts (DAPI –) %</text>
<text x="416.25" y="292.90" font-size="7.6" text-anchor="middle">Healthy CD34<tspan dy="-2.6" font-size="5.8">+</tspan></text>
<text x="416.25" y="302.40" font-size="7.5" text-anchor="middle">(n=14)</text>
<text x="453.00" y="303.90" font-size="7.4" text-anchor="middle">AML</text>
<text x="453.00" y="313.10" font-size="7.5" text-anchor="middle">(n=8)</text>
<text x="416.60" y="313.80" font-size="8.5" text-anchor="middle" textLength="9.90" lengthAdjust="spacingAndGlyphs">***</text>
<line x1="411.60" y1="313.30" x2="421.60" y2="313.30" stroke="#231f20" stroke-width="0.8" />
<text x="456.60" y="343.80" font-size="8.5" text-anchor="middle" textLength="6.60" lengthAdjust="spacingAndGlyphs">**</text>
<line x1="453.00" y1="343.30" x2="460.20" y2="343.30" stroke="#231f20" stroke-width="0.8" />
<text x="351.00" y="280.60" font-size="11.3" font-weight="bold" fill="#111">E</text>
<text x="468.50" y="299.60" font-size="7.4" textLength="51.50" lengthAdjust="spacingAndGlyphs">Healthy Source</text>
<line x1="468.50" y1="300.70" x2="520.00" y2="300.70" stroke="#231f20" stroke-width="0.6" />
<circle cx="469.60" cy="308.80" r="0.9" fill="#111" />
<text x="473.50" y="311.60" font-size="7.6">PBMC</text>
<circle cx="469.60" cy="320.20" r="0.9" fill="#111" />
<text x="473.50" y="323.00" font-size="7.6">CB</text>
<circle cx="469.60" cy="331.80" r="0.6" fill="#111" />
<text x="473.50" y="334.60" font-size="7.6">NBM</text>
<text x="2.50" y="438.30" font-size="11.3" font-weight="bold" fill="#111">F</text>
<text x="50.75" y="441.10" font-size="7.8" textLength="87.50" lengthAdjust="spacingAndGlyphs">Average IC50 – 0.01553</text>
<rect x="41.25" y="472.66" width="10.00" height="52.34" fill="#ffffff" stroke="#c9c9c9" stroke-width="0.6" />
<rect x="57.30" y="476.85" width="10.00" height="48.15" fill="#ffffff" stroke="#c9c9c9" stroke-width="0.6" />
<rect x="73.35" y="474.23" width="10.00" height="50.77" fill="#ffffff" stroke="#c9c9c9" stroke-width="0.6" />
<rect x="89.40" y="476.32" width="10.00" height="48.68" fill="#ffffff" stroke="#c9c9c9" stroke-width="0.6" />
<rect x="105.45" y="477.89" width="10.00" height="47.11" fill="#ffffff" stroke="#c9c9c9" stroke-width="0.6" />
<rect x="121.50" y="509.30" width="10.00" height="15.70" fill="#ffffff" stroke="#c9c9c9" stroke-width="0.6" />
<rect x="137.55" y="517.15" width="10.00" height="7.85" fill="#ffffff" stroke="#c9c9c9" stroke-width="0.6" />
<circle cx="42.00" cy="472.75" r="1.75" fill="#1d3f7a" />
<circle cx="46.00" cy="472.75" r="1.75" fill="#c8102e" />
<circle cx="49.75" cy="472.75" r="1.75" fill="#4caf50" />
<circle cx="58.25" cy="474.50" r="1.75" fill="#4caf50" />
<circle cx="58.25" cy="478.00" r="1.75" fill="#1d3f7a" />
<circle cx="66.00" cy="477.25" r="1.75" fill="#c8102e" />
<circle cx="74.50" cy="475.75" r="1.75" fill="#1d3f7a" />
<circle cx="78.25" cy="472.00" r="1.75" fill="#c8102e" />
<circle cx="81.75" cy="475.25" r="1.75" fill="#4caf50" />
<circle cx="90.50" cy="474.75" r="1.75" fill="#4caf50" />
<circle cx="94.25" cy="479.75" r="1.75" fill="#1d3f7a" />
<circle cx="98.25" cy="475.75" r="1.75" fill="#c8102e" />
<circle cx="110.50" cy="469.75" r="1.75" fill="#c8102e" />
<circle cx="110.50" cy="475.00" r="1.75" fill="#4caf50" />
<circle cx="110.50" cy="487.25" r="1.75" fill="#1d3f7a" />
<circle cx="126.75" cy="502.00" r="1.75" fill="#c8102e" />
<circle cx="126.75" cy="508.25" r="1.75" fill="#4caf50" />
<circle cx="126.75" cy="516.25" r="1.75" fill="#1d3f7a" />
<circle cx="139.00" cy="517.25" r="1.75" fill="#4caf50" />
<circle cx="143.00" cy="523.00" r="1.75" fill="#1d3f7a" />
<circle cx="146.75" cy="517.25" r="1.75" fill="#c8102e" />
<circle cx="124.50" cy="468.25" r="1.75" fill="#c8102e" />
<circle cx="124.50" cy="480.50" r="1.75" fill="#1d3f7a" />
<circle cx="124.50" cy="492.75" r="1.75" fill="#4caf50" />
<text x="129.50" y="471.05" font-size="7.8">AML10</text>
<text x="129.50" y="483.30" font-size="7.8">AML12</text>
<text x="129.50" y="495.55" font-size="7.8">AML15</text>
<line x1="35.20" y1="444.50" x2="35.20" y2="525.70" stroke="#231f20" stroke-width="1.2" />
<line x1="34.60" y1="525.20" x2="154.00" y2="525.20" stroke="#231f20" stroke-width="1.2" />
<line x1="32.00" y1="525.00" x2="35.00" y2="525.00" stroke="#231f20" stroke-width="0.9" />
<text x="30.30" y="527.90" font-size="8" text-anchor="end">0</text>
<line x1="32.00" y1="498.83" x2="35.00" y2="498.83" stroke="#231f20" stroke-width="0.9" />
<text x="30.30" y="501.73" font-size="8" text-anchor="end">50</text>
<line x1="32.00" y1="472.66" x2="35.00" y2="472.66" stroke="#231f20" stroke-width="0.9" />
<text x="30.30" y="475.56" font-size="8" text-anchor="end">100</text>
<line x1="32.00" y1="446.49" x2="35.00" y2="446.49" stroke="#231f20" stroke-width="0.9" />
<text x="30.30" y="449.39" font-size="8" text-anchor="end">150</text>
<line x1="46.25" y1="525.00" x2="46.25" y2="528.20" stroke="#231f20" stroke-width="0.9" />
<text x="49.45" y="533.80" font-size="8.7" text-anchor="end" fill="#333" transform="rotate(-45 49.45 533.80)">0</text>
<line x1="62.30" y1="525.00" x2="62.30" y2="528.20" stroke="#231f20" stroke-width="0.9" />
<text x="65.50" y="533.80" font-size="8.7" text-anchor="end" fill="#333" transform="rotate(-45 65.50 533.80)">0.001</text>
<line x1="78.35" y1="525.00" x2="78.35" y2="528.20" stroke="#231f20" stroke-width="0.9" />
<text x="81.55" y="533.80" font-size="8.7" text-anchor="end" fill="#333" transform="rotate(-45 81.55 533.80)">0.0025</text>
<line x1="94.40" y1="525.00" x2="94.40" y2="528.20" stroke="#231f20" stroke-width="0.9" />
<text x="97.60" y="533.80" font-size="8.7" text-anchor="end" fill="#333" transform="rotate(-45 97.60 533.80)">0.005</text>
<line x1="110.45" y1="525.00" x2="110.45" y2="528.20" stroke="#231f20" stroke-width="0.9" />
<text x="113.65" y="533.80" font-size="8.7" text-anchor="end" fill="#333" transform="rotate(-45 113.65 533.80)">0.01</text>
<line x1="126.50" y1="525.00" x2="126.50" y2="528.20" stroke="#231f20" stroke-width="0.9" />
<text x="129.70" y="533.80" font-size="8.7" text-anchor="end" fill="#333" transform="rotate(-45 129.70 533.80)">0.025</text>
<line x1="142.55" y1="525.00" x2="142.55" y2="528.20" stroke="#231f20" stroke-width="0.9" />
<text x="145.75" y="533.80" font-size="8.7" text-anchor="end" fill="#333" transform="rotate(-45 145.75 533.80)">0.05</text>
<text x="95.00" y="564.30" font-size="9.6" text-anchor="middle" fill="#262626" textLength="40.00" lengthAdjust="spacingAndGlyphs" stroke="#262626" stroke-width="0.22">Methionase</text>
<text x="10.50" y="485.00" font-size="9.6" text-anchor="middle" fill="#262626" transform="rotate(-90 10.50 485.00)" textLength="50.00" lengthAdjust="spacingAndGlyphs" stroke="#262626" stroke-width="0.22">Rel. cell counts</text>
<line x1="111.00" y1="451.00" x2="142.70" y2="451.00" stroke="#333" stroke-width="1.15" />
<text x="126.80" y="451.30" font-size="8.5" text-anchor="middle" textLength="9.90" lengthAdjust="spacingAndGlyphs">***</text>
<line x1="111.00" y1="461.00" x2="126.50" y2="461.00" stroke="#333" stroke-width="1.15" />
<text x="118.75" y="461.00" font-size="8.5" text-anchor="middle" textLength="9.90" lengthAdjust="spacingAndGlyphs">***</text>
<text x="166.70" y="438.20" font-size="11.3" font-weight="bold" fill="#111">G</text>
<text x="166.80" y="462.20" font-size="7.4" textLength="50.00" lengthAdjust="spacingAndGlyphs">MOLM13–LUC</text>
<line x1="220.20" y1="459.40" x2="234.19" y2="459.40" stroke="#111" stroke-width="1.0" />
<path d="M238.80 459.40 L232.40 462.30 L234.19 459.40 L232.40 456.50 Z" fill="#111"/>
<text x="166.80" y="478.70" font-size="7.3" font-weight="bold" fill="#111" textLength="36.00" lengthAdjust="spacingAndGlyphs">start diet:</text>
<text x="166.80" y="487.40" font-size="7.3" font-weight="bold" fill="#111" textLength="43.00" lengthAdjust="spacingAndGlyphs">complete or</text>
<text x="166.80" y="496.10" font-size="7.3" font-weight="bold" fill="#111" textLength="74.00" lengthAdjust="spacingAndGlyphs">methionine depleted</text>
<line x1="185.75" y1="501.50" x2="185.75" y2="522.70" stroke="#111" stroke-width="1.1" />
<path d="M185.75 527.60 L182.55 520.80 L185.75 522.70 L188.95 520.80 Z" fill="#111"/>
<text x="229.50" y="512.60" font-size="7.6" text-anchor="middle" fill="#c8102e">bleed</text>
<line x1="232.50" y1="515.20" x2="232.50" y2="522.99" stroke="#c8102e" stroke-width="1.1" />
<path d="M232.50 527.60 L229.30 521.20 L232.50 522.99 L235.70 521.20 Z" fill="#c8102e"/>
<text x="243.30" y="512.60" font-size="7.6" fill="#2a6099" textLength="52.50" lengthAdjust="spacingAndGlyphs">bioluminesence</text>
<line x1="250.50" y1="515.20" x2="250.50" y2="522.99" stroke="#1f4e79" stroke-width="1.1" />
<path d="M250.50 527.60 L247.30 521.20 L250.50 522.99 L253.70 521.20 Z" fill="#1f4e79"/>
<line x1="178.75" y1="530.50" x2="286.50" y2="530.50" stroke="#231f20" stroke-width="0.9" />
<line x1="178.75" y1="530.50" x2="178.75" y2="535.60" stroke="#231f20" stroke-width="0.9" />
<line x1="185.75" y1="530.50" x2="185.75" y2="535.60" stroke="#231f20" stroke-width="0.9" />
<line x1="232.50" y1="530.50" x2="232.50" y2="535.60" stroke="#231f20" stroke-width="0.9" />
<line x1="250.50" y1="530.50" x2="250.50" y2="535.60" stroke="#231f20" stroke-width="0.9" />
<text x="178.75" y="545.60" font-size="8.5" text-anchor="middle">0</text>
<text x="186.20" y="545.60" font-size="8.5" text-anchor="middle">1</text>
<text x="232.50" y="545.60" font-size="8.5" text-anchor="middle">14</text>
<text x="250.50" y="545.60" font-size="8.5" text-anchor="middle">17</text>
<text x="289.50" y="527.60" font-size="7.3">Timeline</text>
<text x="289.50" y="537.00" font-size="7.3">(days)</text>
<text x="257.20" y="489.80" font-size="7.1">NSG</text>
<g fill="#fff" stroke="#111" stroke-width="0.85" stroke-linejoin="round" stroke-linecap="round">
<path d="M246.4 461.8 C247.8 458.2 244.3 457.6 243.7 460.3 C243 463.2 241.2 465.4 239.7 467.3" fill="none" stroke-width="1.25"/>
<path d="M246.7 461 C252 462.3 256.6 470 257.3 477.2 L238.5 477.2 C239.1 470 242 462.3 246.7 461 Z" stroke="none"/><path d="M257.3 477.2 C256.6 470 252 462.3 246.7 461 C242 462.3 239.1 470 238.5 477.2" fill="none"/>
<ellipse cx="241.9" cy="479.9" rx="4.1" ry="4.5" transform="rotate(-25 241.9 479.9)"/>
<ellipse cx="254.7" cy="479.8" rx="4.1" ry="4.5" transform="rotate(25 254.7 479.8)"/>
<path d="M243.4 481.6 C243.6 478 253.2 478 253.4 481.6 C253.2 485.4 250.6 488.9 248.4 489.5 C246.2 488.9 243.6 485.4 243.4 481.6 Z"/>
<path d="M243.8 487.4 L246.6 488.5 M253 487.4 L250.2 488.5" fill="none" stroke-width="0.8"/>
</g>
<circle cx="246.1" cy="483.8" r="0.8" fill="#111"/><circle cx="250.3" cy="483.8" r="0.8" fill="#111"/>
<path d="M247.3 488.0 L249.5 488.0 L248.4 489.6 Z" fill="#111"/>
<text x="322.00" y="438.50" font-size="11.3" font-weight="bold" fill="#111">H</text>
<text x="366.50" y="449.00" font-size="8.6" text-anchor="middle" fill="#111" textLength="42.50" lengthAdjust="spacingAndGlyphs">control diet</text>
<line x1="325.00" y1="452.00" x2="409.00" y2="452.00" stroke="#6d6e71" stroke-width="1.1" />
<text x="366.50" y="511.00" font-size="8.6" text-anchor="middle" fill="#111" textLength="78.00" lengthAdjust="spacingAndGlyphs">methionine depletion</text>
<line x1="325.00" y1="514.00" x2="409.00" y2="514.00" stroke="#6d6e71" stroke-width="1.1" />
<defs>
<filter id="b1" x="-30%" y="-30%" width="160%" height="160%"><feGaussianBlur stdDeviation="0.9"/></filter>
<filter id="b2" x="-30%" y="-30%" width="160%" height="160%"><feGaussianBlur stdDeviation="0.55"/></filter>
<filter id="b3" x="-30%" y="-30%" width="160%" height="160%"><feGaussianBlur stdDeviation="1.4"/></filter>
</defs>
<clipPath id="mc0"><rect x="324.90" y="455.20" width="19.50" height="45.20"/></clipPath>
<clipPath id="mb0"><path d="M334.65 456.18 C336.68 456.18 338.10 458.48 338.10 462.16 C340.74 464.00 342.77 466.30 342.16 471.36 C341.55 475.96 341.96 478.72 342.77 483.32 C344.19 489.76 342.36 496.43 334.65 496.89 C326.94 496.43 325.11 489.76 326.53 483.32 C327.34 478.72 327.75 475.96 327.14 471.36 C326.53 466.30 328.56 464.00 331.20 462.16 C331.20 458.48 332.62 456.18 334.65 456.18Z"/></clipPath>
<g clip-path="url(#mc0)">
<rect x="324.90" y="455.20" width="19.50" height="45.20" fill="#1d1d20" />
<rect x="324.90" y="495.88" width="19.50" height="4.52" fill="#26262a" />
<g filter="url(#b2)">
<rect x="334.20" y="494.98" width="0.9" height="6.33" fill="#b9b6b2"/>
<ellipse cx="327.63" cy="496.11" rx="1.75" ry="0.81" fill="#cfccc6"/>
<ellipse cx="341.67" cy="496.11" rx="1.75" ry="0.81" fill="#cfccc6"/>
<path d="M334.65 456.56 C336.60 456.56 337.96 458.82 337.96 462.43 C340.50 464.24 342.45 466.50 341.86 471.47 C341.28 475.99 341.67 478.70 342.45 483.22 C343.81 489.55 342.06 496.11 334.65 496.56 C327.24 496.11 325.48 489.55 326.85 483.22 C327.63 478.70 328.02 475.99 327.44 471.47 C326.85 466.50 328.80 464.24 331.33 462.43 C331.33 458.82 332.70 456.56 334.65 456.56Z" fill="#f1f0f4"/>
</g>
<g clip-path="url(#mb0)">
<ellipse cx="334.65" cy="485.94" rx="7.80" ry="11.30" fill="#2a3bb2" filter="url(#b2)"/>
<ellipse cx="335.62" cy="475.54" rx="3.90" ry="4.07" fill="#2a3bb2" filter="url(#b2)"/>
<ellipse cx="334.65" cy="480.51" rx="5.85" ry="5.42" fill="#3554d4" filter="url(#b1)"/>
<ellipse cx="334.65" cy="460.62" rx="4.09" ry="4.52" fill="#3554d4" filter="url(#b2)"/>
<ellipse cx="334.65" cy="461.30" rx="2.92" ry="3.62" fill="#3fd0dc" filter="url(#b2)"/>
<ellipse cx="335.04" cy="461.98" rx="1.56" ry="2.03" fill="#66d64a" filter="url(#b2)"/>
<ellipse cx="327.63" cy="492.26" rx="1.75" ry="2.71" fill="#f1f0f4" filter="url(#b2)"/>
<ellipse cx="341.67" cy="492.26" rx="1.75" ry="2.71" fill="#f1f0f4" filter="url(#b2)"/>
<ellipse cx="331.14" cy="483.68" rx="0.98" ry="1.58" fill="#4f86f0" filter="url(#b2)"/>
<ellipse cx="333.67" cy="494.07" rx="0.98" ry="2.26" fill="#2a3bb2" filter="url(#b2)"/>
<ellipse cx="332.70" cy="473.28" rx="1.17" ry="2.26" fill="#f1f0f4" filter="url(#b2)"/>
<ellipse cx="330.36" cy="477.80" rx="0.98" ry="2.26" fill="#f1f0f4" filter="url(#b2)"/>
</g>
</g>
<clipPath id="mc4"><rect x="324.90" y="517.30" width="19.50" height="44.40"/></clipPath>
<clipPath id="mb4"><path d="M334.65 518.26 C336.68 518.26 338.10 520.52 338.10 524.13 C340.74 525.94 342.77 528.20 342.16 533.17 C341.55 537.69 341.96 540.40 342.77 544.92 C344.19 551.25 342.36 557.81 334.65 558.26 C326.94 557.81 325.11 551.25 326.53 544.92 C327.34 540.40 327.75 537.69 327.14 533.17 C326.53 528.20 328.56 525.94 331.20 524.13 C331.20 520.52 332.62 518.26 334.65 518.26Z"/></clipPath>
<g clip-path="url(#mc4)">
<rect x="324.90" y="517.30" width="19.50" height="44.40" fill="#1d1d20" />
<rect x="324.90" y="557.26" width="19.50" height="4.44" fill="#26262a" />
<g filter="url(#b2)">
<rect x="334.20" y="556.37" width="0.9" height="6.22" fill="#b9b6b2"/>
<ellipse cx="327.63" cy="557.48" rx="1.75" ry="0.80" fill="#cfccc6"/>
<ellipse cx="341.67" cy="557.48" rx="1.75" ry="0.80" fill="#cfccc6"/>
<path d="M334.65 518.63 C336.60 518.63 337.96 520.85 337.96 524.40 C340.50 526.18 342.45 528.40 341.86 533.28 C341.28 537.72 341.67 540.39 342.45 544.83 C343.81 551.04 342.06 557.48 334.65 557.93 C327.24 557.48 325.48 551.04 326.85 544.83 C327.63 540.39 328.02 537.72 327.44 533.28 C326.85 528.40 328.80 526.18 331.33 524.40 C331.33 520.85 332.70 518.63 334.65 518.63Z" fill="#f1f0f4"/>
</g>
<g clip-path="url(#mb4)">
<ellipse cx="334.65" cy="523.07" rx="2.54" ry="4.00" fill="#2a34c0" filter="url(#b2)"/>
<ellipse cx="334.65" cy="521.74" rx="1.17" ry="1.78" fill="#2b4fdc" filter="url(#b2)"/>
<ellipse cx="335.62" cy="538.17" rx="2.15" ry="5.33" fill="#2a34c0" filter="url(#b2)"/>
<ellipse cx="335.62" cy="537.72" rx="0.98" ry="3.11" fill="#1a2a9c" filter="url(#b2)"/>
<ellipse cx="336.99" cy="545.27" rx="1.95" ry="3.11" fill="#2a34c0" filter="url(#b2)"/>
<ellipse cx="332.31" cy="552.38" rx="2.92" ry="3.33" fill="#2a34c0" filter="url(#b2)" transform="rotate(20 332.31 552.38)"/>
<ellipse cx="340.50" cy="546.60" rx="1.17" ry="2.66" fill="#2a34c0" filter="url(#b2)"/>
<ellipse cx="329.77" cy="544.83" rx="0.78" ry="1.78" fill="#2a34c0" filter="url(#b2)"/>
</g>
</g>
<clipPath id="mc1"><rect x="346.30" y="455.20" width="19.50" height="45.20"/></clipPath>
<clipPath id="mb1"><path d="M356.05 456.18 C358.08 456.18 359.50 458.48 359.50 462.16 C362.14 464.00 364.17 466.30 363.56 471.36 C362.95 475.96 363.36 478.72 364.17 483.32 C365.59 489.76 363.76 496.43 356.05 496.89 C348.34 496.43 346.51 489.76 347.93 483.32 C348.74 478.72 349.15 475.96 348.54 471.36 C347.93 466.30 349.96 464.00 352.60 462.16 C352.60 458.48 354.02 456.18 356.05 456.18Z"/></clipPath>
<g clip-path="url(#mc1)">
<rect x="346.30" y="455.20" width="19.50" height="45.20" fill="#1d1d20" />
<rect x="346.30" y="495.88" width="19.50" height="4.52" fill="#26262a" />
<g filter="url(#b2)">
<rect x="355.60" y="494.98" width="0.9" height="6.33" fill="#b9b6b2"/>
<ellipse cx="349.03" cy="496.11" rx="1.75" ry="0.81" fill="#cfccc6"/>
<ellipse cx="363.07" cy="496.11" rx="1.75" ry="0.81" fill="#cfccc6"/>
<path d="M356.05 456.56 C358.00 456.56 359.37 458.82 359.37 462.43 C361.90 464.24 363.85 466.50 363.26 471.47 C362.68 475.99 363.07 478.70 363.85 483.22 C365.22 489.55 363.46 496.11 356.05 496.56 C348.64 496.11 346.88 489.55 348.25 483.22 C349.03 478.70 349.42 475.99 348.84 471.47 C348.25 466.50 350.20 464.24 352.74 462.43 C352.74 458.82 354.10 456.56 356.05 456.56Z" fill="#f1f0f4"/>
</g>
<g clip-path="url(#mb1)">
<ellipse cx="356.05" cy="480.06" rx="10.92" ry="21.70" fill="#4a3fa6" filter="url(#b2)"/>
<ellipse cx="356.05" cy="480.06" rx="7.80" ry="19.44" fill="#2a3bb2" filter="url(#b2)"/>
<ellipse cx="356.05" cy="473.28" rx="5.07" ry="9.04" fill="#3554d4" filter="url(#b1)"/>
<ellipse cx="355.07" cy="461.53" rx="3.90" ry="4.97" fill="#3fd0dc" filter="url(#b2)"/>
<ellipse cx="355.07" cy="461.53" rx="2.92" ry="3.84" fill="#66d64a" filter="url(#b2)"/>
<ellipse cx="355.07" cy="461.30" rx="2.05" ry="2.71" fill="#f6e636" filter="url(#b2)"/>
<ellipse cx="355.07" cy="460.17" rx="1.07" ry="1.36" fill="#ea1f1c" filter="url(#b2)"/>
<ellipse cx="355.47" cy="463.11" rx="0.88" ry="0.99" fill="#ea1f1c" filter="url(#b2)"/>
<ellipse cx="356.05" cy="479.16" rx="2.54" ry="7.23" fill="#3fd0dc" filter="url(#b2)"/>
<ellipse cx="356.05" cy="477.80" rx="1.46" ry="5.20" fill="#66d64a" filter="url(#b2)"/>
<ellipse cx="354.10" cy="489.55" rx="1.75" ry="2.71" fill="#3fd0dc" filter="url(#b2)"/>
<ellipse cx="348.84" cy="493.17" rx="1.17" ry="1.81" fill="#f1f0f4" filter="url(#b2)"/>
<ellipse cx="363.26" cy="493.17" rx="1.17" ry="1.81" fill="#f1f0f4" filter="url(#b2)"/>
<ellipse cx="350.59" cy="470.57" rx="0.78" ry="2.26" fill="#4f86f0" filter="url(#b2)"/>
<ellipse cx="360.93" cy="483.22" rx="0.78" ry="1.81" fill="#4f86f0" filter="url(#b2)"/>
</g>
</g>
<clipPath id="mc5"><rect x="346.30" y="517.30" width="19.50" height="44.40"/></clipPath>
<clipPath id="mb5"><path d="M356.05 518.26 C358.08 518.26 359.50 520.52 359.50 524.13 C362.14 525.94 364.17 528.20 363.56 533.17 C362.95 537.69 363.36 540.40 364.17 544.92 C365.59 551.25 363.76 557.81 356.05 558.26 C348.34 557.81 346.51 551.25 347.93 544.92 C348.74 540.40 349.15 537.69 348.54 533.17 C347.93 528.20 349.96 525.94 352.60 524.13 C352.60 520.52 354.02 518.26 356.05 518.26Z"/></clipPath>
<g clip-path="url(#mc5)">
<rect x="346.30" y="517.30" width="19.50" height="44.40" fill="#1d1d20" />
<rect x="346.30" y="557.26" width="19.50" height="4.44" fill="#26262a" />
<g filter="url(#b2)">
<rect x="355.60" y="556.37" width="0.9" height="6.22" fill="#b9b6b2"/>
<ellipse cx="349.03" cy="557.48" rx="1.75" ry="0.80" fill="#cfccc6"/>
<ellipse cx="363.07" cy="557.48" rx="1.75" ry="0.80" fill="#cfccc6"/>
<path d="M356.05 518.63 C358.00 518.63 359.37 520.85 359.37 524.40 C361.90 526.18 363.85 528.40 363.26 533.28 C362.68 537.72 363.07 540.39 363.85 544.83 C365.22 551.04 363.46 557.48 356.05 557.93 C348.64 557.48 346.88 551.04 348.25 544.83 C349.03 540.39 349.42 537.72 348.84 533.28 C348.25 528.40 350.20 526.18 352.74 524.40 C352.74 520.85 354.10 518.63 356.05 518.63Z" fill="#f1f0f4"/>
</g>
<g clip-path="url(#mb5)">
<ellipse cx="354.49" cy="522.63" rx="2.73" ry="3.77" fill="#2a34c0" filter="url(#b2)"/>
<ellipse cx="354.10" cy="521.74" rx="1.17" ry="1.78" fill="#2b4fdc" filter="url(#b2)"/>
<ellipse cx="358.59" cy="538.17" rx="0.98" ry="4.44" fill="#2a34c0" filter="url(#b2)" transform="rotate(-10 358.59 538.17)"/>
<ellipse cx="362.68" cy="546.16" rx="1.17" ry="2.22" fill="#2a34c0" filter="url(#b2)"/>
<ellipse cx="356.05" cy="554.60" rx="0.98" ry="2.44" fill="#2a34c0" filter="url(#b2)"/>
</g>
</g>
<clipPath id="mc2"><rect x="367.90" y="455.20" width="19.50" height="45.20"/></clipPath>
<clipPath id="mb2"><path d="M377.65 456.18 C379.68 456.18 381.10 458.48 381.10 462.16 C383.74 464.00 385.77 466.30 385.16 471.36 C384.55 475.96 384.96 478.72 385.77 483.32 C387.19 489.76 385.36 496.43 377.65 496.89 C369.94 496.43 368.11 489.76 369.53 483.32 C370.34 478.72 370.75 475.96 370.14 471.36 C369.53 466.30 371.56 464.00 374.20 462.16 C374.20 458.48 375.62 456.18 377.65 456.18Z"/></clipPath>
<g clip-path="url(#mc2)">
<rect x="367.90" y="455.20" width="19.50" height="45.20" fill="#1d1d20" />
<rect x="367.90" y="495.88" width="19.50" height="4.52" fill="#26262a" />
<g filter="url(#b2)">
<rect x="377.20" y="494.98" width="0.9" height="6.33" fill="#b9b6b2"/>
<ellipse cx="370.63" cy="496.11" rx="1.75" ry="0.81" fill="#cfccc6"/>
<ellipse cx="384.67" cy="496.11" rx="1.75" ry="0.81" fill="#cfccc6"/>
<path d="M377.65 456.56 C379.60 456.56 380.96 458.82 380.96 462.43 C383.50 464.24 385.45 466.50 384.86 471.47 C384.28 475.99 384.67 478.70 385.45 483.22 C386.81 489.55 385.06 496.11 377.65 496.56 C370.24 496.11 368.48 489.55 369.85 483.22 C370.63 478.70 371.02 475.99 370.44 471.47 C369.85 466.50 371.80 464.24 374.33 462.43 C374.33 458.82 375.70 456.56 377.65 456.56Z" fill="#f1f0f4"/>
</g>
<g clip-path="url(#mb2)">
<ellipse cx="377.65" cy="480.06" rx="10.92" ry="21.70" fill="#4a3fa6" filter="url(#b2)"/>
<ellipse cx="377.65" cy="480.06" rx="7.80" ry="19.44" fill="#2a3bb2" filter="url(#b2)"/>
<ellipse cx="377.65" cy="474.18" rx="5.07" ry="9.94" fill="#3554d4" filter="url(#b1)"/>
<ellipse cx="377.65" cy="462.43" rx="4.68" ry="6.33" fill="#3fd0dc" filter="url(#b2)"/>
<ellipse cx="377.65" cy="462.43" rx="3.90" ry="5.42" fill="#66d64a" filter="url(#b2)"/>
<ellipse cx="377.65" cy="462.43" rx="3.32" ry="4.75" fill="#f6e636" filter="url(#b2)"/>
<ellipse cx="378.04" cy="463.11" rx="2.63" ry="3.84" fill="#ea1f1c" filter="url(#b2)"/>
<ellipse cx="377.65" cy="477.80" rx="2.34" ry="6.78" fill="#3fd0dc" filter="url(#b2)"/>
<ellipse cx="377.65" cy="476.90" rx="1.37" ry="4.52" fill="#66d64a" filter="url(#b2)"/>
<ellipse cx="373.75" cy="483.22" rx="0.98" ry="1.81" fill="#4f86f0" filter="url(#b2)"/>
<ellipse cx="381.55" cy="471.47" rx="0.98" ry="1.81" fill="#4f86f0" filter="url(#b2)"/>
<ellipse cx="370.82" cy="491.36" rx="1.17" ry="2.26" fill="#f1f0f4" filter="url(#b2)"/>
<ellipse cx="383.50" cy="490.46" rx="0.98" ry="1.81" fill="#4f86f0" filter="url(#b2)"/>
<ellipse cx="372.77" cy="494.98" rx="1.37" ry="1.36" fill="#f1f0f4" filter="url(#b2)"/>
</g>
</g>
<clipPath id="mc6"><rect x="367.90" y="517.30" width="19.50" height="44.40"/></clipPath>
<clipPath id="mb6"><path d="M377.65 518.26 C379.68 518.26 381.10 520.52 381.10 524.13 C383.74 525.94 385.77 528.20 385.16 533.17 C384.55 537.69 384.96 540.40 385.77 544.92 C387.19 551.25 385.36 557.81 377.65 558.26 C369.94 557.81 368.11 551.25 369.53 544.92 C370.34 540.40 370.75 537.69 370.14 533.17 C369.53 528.20 371.56 525.94 374.20 524.13 C374.20 520.52 375.62 518.26 377.65 518.26Z"/></clipPath>
<g clip-path="url(#mc6)">
<rect x="367.90" y="517.30" width="19.50" height="44.40" fill="#1d1d20" />
<rect x="367.90" y="557.26" width="19.50" height="4.44" fill="#26262a" />
<g filter="url(#b2)">
<rect x="377.20" y="556.37" width="0.9" height="6.22" fill="#b9b6b2"/>
<ellipse cx="370.63" cy="557.48" rx="1.75" ry="0.80" fill="#cfccc6"/>
<ellipse cx="384.67" cy="557.48" rx="1.75" ry="0.80" fill="#cfccc6"/>
<path d="M377.65 518.63 C379.60 518.63 380.96 520.85 380.96 524.40 C383.50 526.18 385.45 528.40 384.86 533.28 C384.28 537.72 384.67 540.39 385.45 544.83 C386.81 551.04 385.06 557.48 377.65 557.93 C370.24 557.48 368.48 551.04 369.85 544.83 C370.63 540.39 371.02 537.72 370.44 533.28 C369.85 528.40 371.80 526.18 374.33 524.40 C374.33 520.85 375.70 518.63 377.65 518.63Z" fill="#f1f0f4"/>
</g>
<g clip-path="url(#mb6)">
<ellipse cx="376.67" cy="525.74" rx="1.95" ry="1.78" fill="#2a34c0" filter="url(#b2)"/>
<ellipse cx="375.11" cy="543.05" rx="2.54" ry="2.89" fill="#2a34c0" filter="url(#b2)" transform="rotate(25 375.11 543.05)"/>
<ellipse cx="376.09" cy="540.39" rx="0.98" ry="2.22" fill="#2a34c0" filter="url(#b2)"/>
</g>
</g>
<clipPath id="mc3"><rect x="389.40" y="455.20" width="19.50" height="45.20"/></clipPath>
<clipPath id="mb3"><path d="M399.15 456.18 C401.18 456.18 402.60 458.48 402.60 462.16 C405.24 464.00 407.27 466.30 406.66 471.36 C406.05 475.96 406.46 478.72 407.27 483.32 C408.69 489.76 406.86 496.43 399.15 496.89 C391.44 496.43 389.61 489.76 391.03 483.32 C391.84 478.72 392.25 475.96 391.64 471.36 C391.03 466.30 393.06 464.00 395.70 462.16 C395.70 458.48 397.12 456.18 399.15 456.18Z"/></clipPath>
<g clip-path="url(#mc3)">
<rect x="389.40" y="455.20" width="19.50" height="45.20" fill="#1d1d20" />
<rect x="389.40" y="495.88" width="19.50" height="4.52" fill="#26262a" />
<g filter="url(#b2)">
<rect x="398.70" y="494.98" width="0.9" height="6.33" fill="#b9b6b2"/>
<ellipse cx="392.13" cy="496.11" rx="1.75" ry="0.81" fill="#cfccc6"/>
<ellipse cx="406.17" cy="496.11" rx="1.75" ry="0.81" fill="#cfccc6"/>
<path d="M399.15 456.56 C401.10 456.56 402.46 458.82 402.46 462.43 C405.00 464.24 406.95 466.50 406.36 471.47 C405.78 475.99 406.17 478.70 406.95 483.22 C408.31 489.55 406.56 496.11 399.15 496.56 C391.74 496.11 389.98 489.55 391.35 483.22 C392.13 478.70 392.52 475.99 391.94 471.47 C391.35 466.50 393.30 464.24 395.83 462.43 C395.83 458.82 397.20 456.56 399.15 456.56Z" fill="#f1f0f4"/>
</g>
<g clip-path="url(#mb3)">
<ellipse cx="399.15" cy="480.06" rx="10.92" ry="21.70" fill="#4a3fa6" filter="url(#b2)"/>
<ellipse cx="399.15" cy="480.06" rx="7.80" ry="19.44" fill="#2a3bb2" filter="url(#b2)"/>
<ellipse cx="398.17" cy="462.43" rx="4.29" ry="5.88" fill="#3fd0dc" filter="url(#b2)"/>
<ellipse cx="398.17" cy="462.43" rx="3.51" ry="4.97" fill="#66d64a" filter="url(#b2)"/>
<ellipse cx="398.17" cy="462.43" rx="2.92" ry="4.29" fill="#f6e636" filter="url(#b2)"/>
<ellipse cx="398.37" cy="462.88" rx="2.24" ry="3.53" fill="#ea1f1c" filter="url(#b2)"/>
<ellipse cx="401.49" cy="478.70" rx="1.75" ry="6.33" fill="#3fd0dc" filter="url(#b2)"/>
<ellipse cx="401.49" cy="477.35" rx="0.98" ry="3.62" fill="#66d64a" filter="url(#b2)"/>
<ellipse cx="402.27" cy="469.21" rx="2.34" ry="1.13" fill="#f1f0f4" filter="url(#b2)" transform="rotate(25 402.27 469.21)"/>
<ellipse cx="395.25" cy="468.76" rx="1.56" ry="1.13" fill="#f1f0f4" filter="url(#b2)" transform="rotate(-30 395.25 468.76)"/>
<ellipse cx="394.66" cy="485.03" rx="0.68" ry="2.71" fill="#f1f0f4" filter="url(#b2)" transform="rotate(-25 394.66 485.03)"/>
<ellipse cx="405.39" cy="493.17" rx="1.37" ry="1.81" fill="#f1f0f4" filter="url(#b2)" transform="rotate(-30 405.39 493.17)"/>
<ellipse cx="395.25" cy="494.07" rx="1.56" ry="1.36" fill="#f1f0f4" filter="url(#b2)"/>
<ellipse cx="405.97" cy="482.32" rx="0.58" ry="1.81" fill="#4f86f0" filter="url(#b2)"/>
</g>
</g>
<clipPath id="mc7"><rect x="389.40" y="517.30" width="19.50" height="44.40"/></clipPath>
<clipPath id="mb7"><path d="M399.15 518.26 C401.18 518.26 402.60 520.52 402.60 524.13 C405.24 525.94 407.27 528.20 406.66 533.17 C406.05 537.69 406.46 540.40 407.27 544.92 C408.69 551.25 406.86 557.81 399.15 558.26 C391.44 557.81 389.61 551.25 391.03 544.92 C391.84 540.40 392.25 537.69 391.64 533.17 C391.03 528.20 393.06 525.94 395.70 524.13 C395.70 520.52 397.12 518.26 399.15 518.26Z"/></clipPath>
<g clip-path="url(#mc7)">
<rect x="389.40" y="517.30" width="19.50" height="44.40" fill="#1d1d20" />
<rect x="389.40" y="557.26" width="19.50" height="4.44" fill="#26262a" />
<g filter="url(#b2)">
<rect x="398.70" y="556.37" width="0.9" height="6.22" fill="#b9b6b2"/>
<ellipse cx="392.13" cy="557.48" rx="1.75" ry="0.80" fill="#cfccc6"/>
<ellipse cx="406.17" cy="557.48" rx="1.75" ry="0.80" fill="#cfccc6"/>
<path d="M399.15 518.63 C401.10 518.63 402.46 520.85 402.46 524.40 C405.00 526.18 406.95 528.40 406.36 533.28 C405.78 537.72 406.17 540.39 406.95 544.83 C408.31 551.04 406.56 557.48 399.15 557.93 C391.74 557.48 389.98 551.04 391.35 544.83 C392.13 540.39 392.52 537.72 391.94 533.28 C391.35 528.40 393.30 526.18 395.83 524.40 C395.83 520.85 397.20 518.63 399.15 518.63Z" fill="#f1f0f4"/>
</g>
<g clip-path="url(#mb7)">
<ellipse cx="398.17" cy="523.07" rx="3.71" ry="4.88" fill="#2b4fdc" filter="url(#b2)"/>
<ellipse cx="397.59" cy="521.74" rx="1.56" ry="2.22" fill="#4f86f0" filter="url(#b2)"/>
<ellipse cx="398.17" cy="526.18" rx="3.12" ry="1.78" fill="#2a34c0" filter="url(#b2)"/>
<ellipse cx="399.54" cy="546.60" rx="5.46" ry="12.43" fill="#2b4fdc" filter="url(#b2)"/>
<ellipse cx="399.54" cy="536.84" rx="2.73" ry="4.44" fill="#2b4fdc" filter="url(#b2)"/>
<ellipse cx="399.15" cy="549.27" rx="3.90" ry="8.88" fill="#2a34c0" filter="url(#b2)"/>
<ellipse cx="400.32" cy="539.50" rx="0.98" ry="5.33" fill="#58a6f2" filter="url(#b2)" transform="rotate(12 400.32 539.50)"/>
<ellipse cx="393.69" cy="533.28" rx="1.95" ry="1.33" fill="#2a34c0" filter="url(#b2)" transform="rotate(20 393.69 533.28)"/>
</g>
</g>
<rect x="467.30" y="473.34" width="15.60" height="56.36" fill="#c5c5c9" />
<rect x="491.50" y="506.30" width="15.60" height="23.40" fill="#c8102e" />
<line x1="475.10" y1="492.12" x2="475.10" y2="454.55" stroke="#222" stroke-width="0.9" />
<line x1="471.10" y1="454.55" x2="479.10" y2="454.55" stroke="#222" stroke-width="0.9" />
<line x1="471.10" y1="492.12" x2="479.10" y2="492.12" stroke="#222" stroke-width="0.9" />
<line x1="499.30" y1="523.38" x2="499.30" y2="489.22" stroke="#222" stroke-width="0.9" />
<line x1="495.30" y1="489.22" x2="503.30" y2="489.22" stroke="#222" stroke-width="0.9" />
<line x1="495.30" y1="523.38" x2="503.30" y2="523.38" stroke="#222" stroke-width="0.9" />
<circle cx="472.50" cy="462.20" r="1.5" fill="#111" />
<circle cx="477.60" cy="461.50" r="1.5" fill="#111" />
<circle cx="475.40" cy="469.30" r="1.5" fill="#111" />
<circle cx="475.40" cy="499.60" r="1.5" fill="#111" />
<rect x="498.15" y="479.95" width="3.10" height="3.10" fill="#111" />
<rect x="493.05" y="491.65" width="3.10" height="3.10" fill="#111" />
<rect x="498.15" y="492.75" width="3.10" height="3.10" fill="#111" />
<rect x="503.05" y="495.85" width="3.10" height="3.10" fill="#111" />
<rect x="492.65" y="496.05" width="3.10" height="3.10" fill="#111" />
<rect x="498.15" y="499.45" width="3.10" height="3.10" fill="#111" />
<rect x="498.15" y="508.45" width="3.10" height="3.10" fill="#111" />
<rect x="495.45" y="514.45" width="3.10" height="3.10" fill="#111" />
<rect x="500.45" y="517.95" width="3.10" height="3.10" fill="#111" />
<rect x="497.65" y="522.45" width="3.10" height="3.10" fill="#111" />
<rect x="495.45" y="526.45" width="3.10" height="3.10" fill="#111" />
<rect x="500.45" y="526.45" width="3.10" height="3.10" fill="#111" />
<line x1="459.00" y1="441.40" x2="459.00" y2="530.30" stroke="#231f20" stroke-width="1.2" />
<line x1="458.40" y1="529.80" x2="515.60" y2="529.80" stroke="#231f20" stroke-width="1.2" />
<line x1="455.80" y1="529.70" x2="458.80" y2="529.70" stroke="#231f20" stroke-width="0.9" />
<text x="454.20" y="532.60" font-size="8" text-anchor="end">0</text>
<line x1="455.80" y1="512.62" x2="458.80" y2="512.62" stroke="#231f20" stroke-width="0.9" />
<text x="454.20" y="515.52" font-size="8" text-anchor="end">1.0</text>
<line x1="455.80" y1="495.54" x2="458.80" y2="495.54" stroke="#231f20" stroke-width="0.9" />
<text x="454.20" y="498.44" font-size="8" text-anchor="end">2.0</text>
<line x1="455.80" y1="478.46" x2="458.80" y2="478.46" stroke="#231f20" stroke-width="0.9" />
<text x="454.20" y="481.36" font-size="8" text-anchor="end">3.0</text>
<line x1="455.80" y1="461.38" x2="458.80" y2="461.38" stroke="#231f20" stroke-width="0.9" />
<text x="454.20" y="464.28" font-size="8" text-anchor="end">4.0</text>
<line x1="455.80" y1="444.30" x2="458.80" y2="444.30" stroke="#231f20" stroke-width="0.9" />
<text x="454.20" y="447.20" font-size="8" text-anchor="end">5.0</text>
<line x1="475.10" y1="529.70" x2="475.10" y2="532.90" stroke="#231f20" stroke-width="0.9" />
<text x="477.90" y="538.70" font-size="8.7" text-anchor="end" fill="#333" transform="rotate(-45 477.90 538.70)">Ctrl diet</text>
<line x1="499.30" y1="529.70" x2="499.30" y2="532.90" stroke="#231f20" stroke-width="0.9" />
<text x="502.10" y="538.70" font-size="8.7" text-anchor="end" fill="#333" transform="rotate(-45 502.10 538.70)">Met free</text>
<line x1="473.60" y1="448.30" x2="497.50" y2="448.30" stroke="#333" stroke-width="1.15" />
<text x="485.80" y="448.60" font-size="8.5" text-anchor="middle" textLength="6.60" lengthAdjust="spacingAndGlyphs">**</text>
<text x="424.40" y="485.30" font-size="9.6" text-anchor="middle" fill="#262626" transform="rotate(-90 424.40 485.30)" textLength="58.00" lengthAdjust="spacingAndGlyphs" stroke="#262626" stroke-width="0.22">Bioluminescence</text>
<text x="436.40" y="485.30" font-size="9.6" text-anchor="middle" fill="#262626" transform="rotate(-90 436.40 485.30)" textLength="58.50" lengthAdjust="spacingAndGlyphs" stroke="#262626" stroke-width="0.22">(10E9 photons/s)</text>
<text x="8.00" y="586.20" font-size="11.3" font-weight="bold" fill="#111">I</text>
<rect x="56.95" y="628.23" width="15.60" height="60.02" fill="#c5c5c9" />
<rect x="80.60" y="669.55" width="15.60" height="18.70" fill="#c8102e" />
<line x1="64.75" y1="644.79" x2="64.75" y2="611.66" stroke="#222" stroke-width="0.9" />
<line x1="60.75" y1="611.66" x2="68.75" y2="611.66" stroke="#222" stroke-width="0.9" />
<line x1="60.75" y1="644.79" x2="68.75" y2="644.79" stroke="#222" stroke-width="0.9" />
<line x1="88.40" y1="686.61" x2="88.40" y2="652.50" stroke="#222" stroke-width="0.9" />
<line x1="84.40" y1="652.50" x2="92.40" y2="652.50" stroke="#222" stroke-width="0.9" />
<line x1="84.40" y1="686.61" x2="92.40" y2="686.61" stroke="#222" stroke-width="0.9" />
<circle cx="65.00" cy="611.75" r="1.5" fill="#111" />
<circle cx="65.00" cy="618.00" r="1.5" fill="#111" />
<circle cx="65.00" cy="636.25" r="1.5" fill="#111" />
<circle cx="65.00" cy="645.75" r="1.5" fill="#111" />
<rect x="87.20" y="626.45" width="3.10" height="3.10" fill="#111" />
<rect x="86.45" y="654.70" width="3.10" height="3.10" fill="#111" />
<rect x="80.95" y="660.20" width="3.10" height="3.10" fill="#111" />
<rect x="87.20" y="659.70" width="3.10" height="3.10" fill="#111" />
<rect x="93.45" y="659.70" width="3.10" height="3.10" fill="#111" />
<rect x="92.95" y="664.45" width="3.10" height="3.10" fill="#111" />
<rect x="80.95" y="668.95" width="3.10" height="3.10" fill="#111" />
<rect x="87.20" y="674.45" width="3.10" height="3.10" fill="#111" />
<rect x="93.45" y="672.75" width="3.10" height="3.10" fill="#111" />
<rect x="80.95" y="680.95" width="3.10" height="3.10" fill="#111" />
<rect x="84.75" y="683.45" width="3.10" height="3.10" fill="#111" />
<rect x="90.95" y="683.45" width="3.10" height="3.10" fill="#111" />
<rect x="94.25" y="680.95" width="3.10" height="3.10" fill="#111" />
<rect x="87.20" y="685.45" width="3.10" height="3.10" fill="#111" />
<line x1="47.20" y1="604.50" x2="47.20" y2="688.85" stroke="#231f20" stroke-width="1.2" />
<line x1="46.60" y1="688.35" x2="103.75" y2="688.35" stroke="#231f20" stroke-width="1.2" />
<line x1="44.00" y1="688.25" x2="47.00" y2="688.25" stroke="#231f20" stroke-width="0.9" />
<text x="42.40" y="691.15" font-size="8" text-anchor="end">0.0</text>
<line x1="44.00" y1="671.85" x2="47.00" y2="671.85" stroke="#231f20" stroke-width="0.9" />
<text x="42.40" y="674.75" font-size="8" text-anchor="end">0.5</text>
<line x1="44.00" y1="655.45" x2="47.00" y2="655.45" stroke="#231f20" stroke-width="0.9" />
<text x="42.40" y="658.35" font-size="8" text-anchor="end">1.0</text>
<line x1="44.00" y1="639.05" x2="47.00" y2="639.05" stroke="#231f20" stroke-width="0.9" />
<text x="42.40" y="641.95" font-size="8" text-anchor="end">1.5</text>
<line x1="44.00" y1="622.65" x2="47.00" y2="622.65" stroke="#231f20" stroke-width="0.9" />
<text x="42.40" y="625.55" font-size="8" text-anchor="end">2.0</text>
<line x1="44.00" y1="606.25" x2="47.00" y2="606.25" stroke="#231f20" stroke-width="0.9" />
<text x="42.40" y="609.15" font-size="8" text-anchor="end">2.5</text>
<line x1="64.75" y1="688.25" x2="64.75" y2="691.45" stroke="#231f20" stroke-width="0.9" />
<text x="67.55" y="697.25" font-size="8.7" text-anchor="end" fill="#333" transform="rotate(-45 67.55 697.25)">Ctrl diet</text>
<line x1="88.40" y1="688.25" x2="88.40" y2="691.45" stroke="#231f20" stroke-width="0.9" />
<text x="91.20" y="697.25" font-size="8.7" text-anchor="end" fill="#333" transform="rotate(-45 91.20 697.25)">Met free</text>
<line x1="66.25" y1="603.00" x2="87.50" y2="603.00" stroke="#333" stroke-width="1.15" />
<text x="77.00" y="603.30" font-size="8.5" text-anchor="middle" textLength="9.90" lengthAdjust="spacingAndGlyphs">***</text>
<text x="11.00" y="646.25" font-size="9.6" text-anchor="middle" fill="#262626" transform="rotate(-90 11.00 646.25)" textLength="77.50" lengthAdjust="spacingAndGlyphs" stroke="#262626" stroke-width="0.22">PB engraftment day 14</text>
<text x="24.40" y="646.50" font-size="9.6" text-anchor="middle" fill="#262626" transform="rotate(-90 24.40 646.50)" textLength="57.00" lengthAdjust="spacingAndGlyphs" stroke="#262626" stroke-width="0.22">(% hu CD45/GFP)</text>
<text x="116.00" y="586.20" font-size="11.3" font-weight="bold" fill="#111">J</text>
<path d="M217.62 600.75 L221.25 600.75 L221.25 608.01 L224.88 608.01 L224.88 629.89 L228.50 629.89 L228.50 651.76 L232.12 651.76 L232.12 666.38 L235.75 666.38 L235.75 673.64 L250.25 673.64 L250.25 680.99 L261.12 680.99 L261.12 688.25" fill="none" stroke="#c8102e" stroke-width="1.5"/>
<path d="M148.75 600.75 L217.62 600.75 L217.62 666.38 L221.25 666.38 L221.25 688.25" fill="none" stroke="#c4c4c4" stroke-width="1.6"/>
<path d="M217.62 664.08 L219.93 666.38 L217.62 668.67 L215.32 666.38 Z" fill="#c4c4c4"/>
<path d="M221.25 685.95 L223.55 688.25 L221.25 690.55 L218.95 688.25 Z" fill="#c4c4c4"/>
<circle cx="221.25" cy="608.01" r="2.2" fill="#c8102e" />
<circle cx="224.88" cy="629.89" r="2.2" fill="#c8102e" />
<circle cx="228.50" cy="651.76" r="2.2" fill="#c8102e" />
<circle cx="232.12" cy="666.38" r="2.2" fill="#c8102e" />
<circle cx="235.75" cy="673.64" r="2.2" fill="#c8102e" />
<circle cx="250.25" cy="680.99" r="2.2" fill="#c8102e" />
<circle cx="261.12" cy="688.25" r="2.2" fill="#c8102e" />
<line x1="148.95" y1="598.50" x2="148.95" y2="688.90" stroke="#231f20" stroke-width="1.2" />
<line x1="148.35" y1="688.35" x2="296.50" y2="688.35" stroke="#231f20" stroke-width="1.2" />
<line x1="145.70" y1="688.25" x2="148.75" y2="688.25" stroke="#231f20" stroke-width="0.9" />
<text x="143.60" y="691.35" font-size="8.5" text-anchor="end">0</text>
<line x1="145.70" y1="644.50" x2="148.75" y2="644.50" stroke="#231f20" stroke-width="0.9" />
<text x="143.60" y="647.60" font-size="8.5" text-anchor="end">50</text>
<line x1="145.70" y1="600.75" x2="148.75" y2="600.75" stroke="#231f20" stroke-width="0.9" />
<text x="143.60" y="603.85" font-size="8.5" text-anchor="end">100</text>
<line x1="148.75" y1="688.25" x2="148.75" y2="691.50" stroke="#231f20" stroke-width="0.9" />
<text x="148.75" y="700.60" font-size="8.5" text-anchor="middle">0</text>
<line x1="185.00" y1="688.25" x2="185.00" y2="691.50" stroke="#231f20" stroke-width="0.9" />
<text x="185.00" y="700.60" font-size="8.5" text-anchor="middle">0</text>
<line x1="221.25" y1="688.25" x2="221.25" y2="691.50" stroke="#231f20" stroke-width="0.9" />
<text x="221.25" y="700.60" font-size="8.5" text-anchor="middle">20</text>
<line x1="257.50" y1="688.25" x2="257.50" y2="691.50" stroke="#231f20" stroke-width="0.9" />
<text x="257.50" y="700.60" font-size="8.5" text-anchor="middle">30</text>
<line x1="293.75" y1="688.25" x2="293.75" y2="691.50" stroke="#231f20" stroke-width="0.9" />
<text x="293.75" y="700.60" font-size="8.5" text-anchor="middle">40</text>
<text x="222.50" y="714.60" font-size="9.6" text-anchor="middle" fill="#262626" textLength="17.00" lengthAdjust="spacingAndGlyphs" stroke="#262626" stroke-width="0.22">Days</text>
<text x="125.00" y="643.00" font-size="9.6" text-anchor="middle" fill="#262626" transform="rotate(-90 125.00 643.00)" textLength="41.00" lengthAdjust="spacingAndGlyphs" stroke="#262626" stroke-width="0.22">Survival (%)</text>
<line x1="155.00" y1="581.25" x2="163.50" y2="581.25" stroke="#c4c4c4" stroke-width="1.4" />
<path d="M159.2 578.9 L161.5 581.25 L159.2 583.6 L156.9 581.25 Z" fill="#c4c4c4"/>
<text x="167.50" y="584.00" font-size="7.6" fill="#333" textLength="41.50" lengthAdjust="spacingAndGlyphs">Control Diet</text>
<line x1="154.50" y1="593.40" x2="164.00" y2="593.40" stroke="#c8102e" stroke-width="1.4" />
<circle cx="159.20" cy="593.40" r="2.2" fill="#c8102e" />
<text x="167.50" y="596.20" font-size="7.6" textLength="91.00" lengthAdjust="spacingAndGlyphs">Methionine Depletion Diet</text>
<text x="247.50" y="632.80" font-size="8.5" text-anchor="middle" textLength="13.20" lengthAdjust="spacingAndGlyphs">****</text>
<line x1="235.50" y1="634.70" x2="258.70" y2="634.70" stroke="#333" stroke-width="1.15" />
<text x="232.50" y="643.80" font-size="7.4" textLength="35.30" lengthAdjust="spacingAndGlyphs"><tspan font-style="italic">P</tspan> &lt; 0.0001</text>
<text x="308.70" y="586.20" font-size="11.3" font-weight="bold" fill="#111">K</text>
<text x="368.30" y="599.50" font-size="7.6" text-anchor="middle" textLength="50.00" lengthAdjust="spacingAndGlyphs">BM (AML#16)</text>
<rect x="349.95" y="635.80" width="15.60" height="52.45" fill="#c5c5c9" />
<rect x="373.80" y="655.53" width="15.60" height="32.72" fill="#c8102e" />
<line x1="357.75" y1="641.13" x2="357.75" y2="630.47" stroke="#222" stroke-width="0.9" />
<line x1="354.15" y1="630.47" x2="361.35" y2="630.47" stroke="#222" stroke-width="0.9" />
<line x1="354.15" y1="641.13" x2="361.35" y2="641.13" stroke="#222" stroke-width="0.9" />
<line x1="381.60" y1="659.86" x2="381.60" y2="651.20" stroke="#222" stroke-width="0.9" />
<line x1="378.00" y1="651.20" x2="385.20" y2="651.20" stroke="#222" stroke-width="0.9" />
<line x1="378.00" y1="659.86" x2="385.20" y2="659.86" stroke="#222" stroke-width="0.9" />
<circle cx="353.75" cy="633.00" r="1.4" fill="#111" />
<circle cx="362.50" cy="631.25" r="1.4" fill="#111" />
<circle cx="358.75" cy="635.00" r="1.4" fill="#111" />
<circle cx="353.75" cy="637.50" r="1.4" fill="#111" />
<circle cx="361.25" cy="640.50" r="1.4" fill="#111" />
<circle cx="352.50" cy="641.25" r="1.4" fill="#111" />
<circle cx="358.00" cy="640.50" r="1.4" fill="#111" />
<rect x="373.80" y="652.55" width="2.40" height="2.40" fill="#111" />
<rect x="378.80" y="650.05" width="2.40" height="2.40" fill="#111" />
<rect x="382.55" y="650.05" width="2.40" height="2.40" fill="#111" />
<rect x="386.80" y="651.30" width="2.40" height="2.40" fill="#111" />
<rect x="377.55" y="657.55" width="2.40" height="2.40" fill="#111" />
<rect x="381.30" y="656.30" width="2.40" height="2.40" fill="#111" />
<rect x="378.80" y="660.05" width="2.40" height="2.40" fill="#111" />
<line x1="341.45" y1="603.50" x2="341.45" y2="688.85" stroke="#231f20" stroke-width="1.2" />
<line x1="340.85" y1="688.35" x2="396.25" y2="688.35" stroke="#231f20" stroke-width="1.2" />
<line x1="338.25" y1="688.25" x2="341.25" y2="688.25" stroke="#231f20" stroke-width="0.9" />
<text x="336.65" y="691.15" font-size="8" text-anchor="end">0</text>
<line x1="338.25" y1="671.60" x2="341.25" y2="671.60" stroke="#231f20" stroke-width="0.9" />
<text x="336.65" y="674.50" font-size="8" text-anchor="end">20</text>
<line x1="338.25" y1="654.95" x2="341.25" y2="654.95" stroke="#231f20" stroke-width="0.9" />
<text x="336.65" y="657.85" font-size="8" text-anchor="end">40</text>
<line x1="338.25" y1="638.30" x2="341.25" y2="638.30" stroke="#231f20" stroke-width="0.9" />
<text x="336.65" y="641.20" font-size="8" text-anchor="end">60</text>
<line x1="338.25" y1="621.65" x2="341.25" y2="621.65" stroke="#231f20" stroke-width="0.9" />
<text x="336.65" y="624.55" font-size="8" text-anchor="end">80</text>
<line x1="338.25" y1="605.00" x2="341.25" y2="605.00" stroke="#231f20" stroke-width="0.9" />
<text x="336.65" y="607.90" font-size="8" text-anchor="end">100</text>
<line x1="357.75" y1="688.25" x2="357.75" y2="691.45" stroke="#231f20" stroke-width="0.9" />
<text x="360.55" y="697.25" font-size="8.7" text-anchor="end" fill="#333" transform="rotate(-45 360.55 697.25)">Ctrl diet</text>
<line x1="381.60" y1="688.25" x2="381.60" y2="691.45" stroke="#231f20" stroke-width="0.9" />
<text x="384.40" y="697.25" font-size="8.7" text-anchor="end" fill="#333" transform="rotate(-45 384.40 697.25)">Met free</text>
<path d="M357.3 628.75 L357.3 622.1 L381.7 622.1 L381.7 648.75" fill="none" stroke="#333" stroke-width="0.9"/>
<text x="369.00" y="622.40" font-size="8.5" text-anchor="middle" textLength="9.90" lengthAdjust="spacingAndGlyphs">***</text>
<text x="317.00" y="644.75" font-size="9.6" text-anchor="middle" fill="#262626" transform="rotate(-90 317.00 644.75)" textLength="25.50" lengthAdjust="spacingAndGlyphs" stroke="#262626" stroke-width="0.22">CD45 %</text>
<text x="419.60" y="586.60" font-size="11.3" font-weight="bold" fill="#111">L</text>
<text x="486.00" y="599.60" font-size="7.6" text-anchor="middle" textLength="50.00" lengthAdjust="spacingAndGlyphs">BM (AML#16)</text>
<rect x="466.95" y="641.91" width="15.70" height="46.59" fill="#c5c5c9" />
<rect x="491.65" y="665.62" width="15.70" height="22.88" fill="#c8102e" />
<line x1="474.80" y1="653.45" x2="474.80" y2="630.36" stroke="#222" stroke-width="0.9" />
<line x1="471.00" y1="630.36" x2="478.60" y2="630.36" stroke="#222" stroke-width="0.9" />
<line x1="471.00" y1="653.45" x2="478.60" y2="653.45" stroke="#222" stroke-width="0.9" />
<line x1="499.50" y1="672.07" x2="499.50" y2="659.17" stroke="#222" stroke-width="0.9" />
<line x1="495.70" y1="659.17" x2="503.30" y2="659.17" stroke="#222" stroke-width="0.9" />
<line x1="495.70" y1="672.07" x2="503.30" y2="672.07" stroke="#222" stroke-width="0.9" />
<circle cx="475.00" cy="626.20" r="1.4" fill="#111" />
<circle cx="477.30" cy="630.40" r="1.4" fill="#111" />
<circle cx="475.50" cy="643.80" r="1.4" fill="#111" />
<circle cx="469.70" cy="646.50" r="1.4" fill="#111" />
<circle cx="480.30" cy="646.50" r="1.4" fill="#111" />
<circle cx="474.30" cy="648.80" r="1.4" fill="#111" />
<circle cx="475.00" cy="656.90" r="1.4" fill="#111" />
<rect x="498.00" y="652.30" width="2.40" height="2.40" fill="#111" />
<rect x="498.00" y="660.30" width="2.40" height="2.40" fill="#111" />
<rect x="493.00" y="665.70" width="2.40" height="2.40" fill="#111" />
<rect x="502.70" y="665.70" width="2.40" height="2.40" fill="#111" />
<rect x="495.80" y="668.00" width="2.40" height="2.40" fill="#111" />
<rect x="500.30" y="668.00" width="2.40" height="2.40" fill="#111" />
<rect x="498.00" y="669.60" width="2.40" height="2.40" fill="#111" />
<line x1="458.40" y1="602.50" x2="458.40" y2="689.10" stroke="#231f20" stroke-width="1.2" />
<line x1="457.80" y1="688.60" x2="514.20" y2="688.60" stroke="#231f20" stroke-width="1.2" />
<line x1="455.20" y1="688.50" x2="458.20" y2="688.50" stroke="#231f20" stroke-width="0.9" />
<text x="453.60" y="691.40" font-size="8" text-anchor="end">0</text>
<line x1="455.20" y1="667.70" x2="458.20" y2="667.70" stroke="#231f20" stroke-width="0.9" />
<text x="452.60" y="670.60" font-size="7.9" text-anchor="end">1×10<tspan dy="-2.8" font-size="5.5">7</tspan></text>
<line x1="455.20" y1="646.90" x2="458.20" y2="646.90" stroke="#231f20" stroke-width="0.9" />
<text x="452.60" y="649.80" font-size="7.9" text-anchor="end">2×10<tspan dy="-2.8" font-size="5.5">7</tspan></text>
<line x1="455.20" y1="626.10" x2="458.20" y2="626.10" stroke="#231f20" stroke-width="0.9" />
<text x="452.60" y="629.00" font-size="7.9" text-anchor="end">3×10<tspan dy="-2.8" font-size="5.5">7</tspan></text>
<line x1="455.20" y1="605.30" x2="458.20" y2="605.30" stroke="#231f20" stroke-width="0.9" />
<text x="452.60" y="608.20" font-size="7.9" text-anchor="end">4×10<tspan dy="-2.8" font-size="5.5">7</tspan></text>
<line x1="474.80" y1="688.50" x2="474.80" y2="691.70" stroke="#231f20" stroke-width="0.9" />
<text x="477.60" y="697.50" font-size="8.7" text-anchor="end" fill="#333" transform="rotate(-45 477.60 697.50)">Ctrl diet</text>
<line x1="499.50" y1="688.50" x2="499.50" y2="691.70" stroke="#231f20" stroke-width="0.9" />
<text x="502.30" y="697.50" font-size="8.7" text-anchor="end" fill="#333" transform="rotate(-45 502.30 697.50)">Met free</text>
<path d="M475 622.3 L475 617.7 L499.7 617.7 L499.7 651.2" fill="none" stroke="#333" stroke-width="0.9"/>
<text x="486.50" y="618.30" font-size="8.5" text-anchor="middle" textLength="6.60" lengthAdjust="spacingAndGlyphs">**</text>
<text x="425.20" y="645.40" font-size="9.6" text-anchor="middle" fill="#262626" transform="rotate(-90 425.20 645.40)" textLength="67.00" lengthAdjust="spacingAndGlyphs" stroke="#262626" stroke-width="0.22">Absolute cell counts</text>
</svg>
</body></html>
